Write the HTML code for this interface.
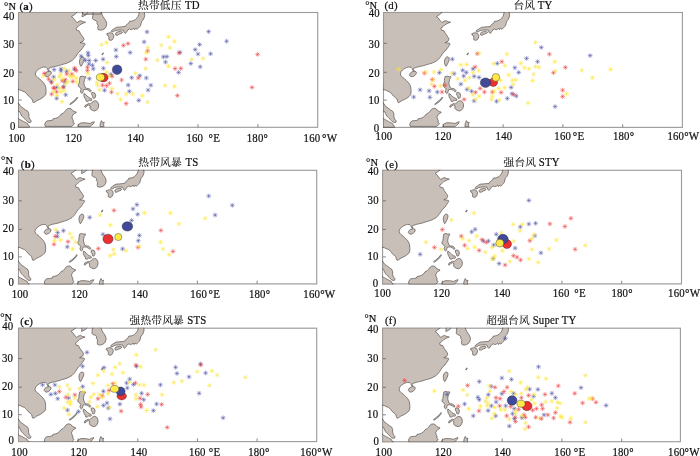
<!DOCTYPE html>
<html lang="zh"><head><meta charset="utf-8"><title>TC genesis locations</title>
<style>
html,body{margin:0;padding:0;background:#fff;}
body{width:700px;height:456px;overflow:hidden;}
svg{display:block;}
text{font-family:"Liberation Serif","Noto Serif CJK SC",serif;fill:#111;stroke:#111;stroke-width:0.22px;}
.t{font-size:12px;letter-spacing:0.2px;}
.cj{font-size:10.7px;letter-spacing:0.2px;stroke-width:0.1px;}
.u{font-size:11.4px;letter-spacing:0.2px;}
.e{font-size:12.2px;letter-spacing:0.3px;}
.g{font-size:10.8px;letter-spacing:0.3px;}
.land{fill:#c9bfb9;stroke:#5e5652;stroke-width:0.72;stroke-linejoin:round;}
.fr{fill:none;stroke:#c2c2c2;stroke-width:1.1;}
.fr2{fill:none;stroke:#000;stroke-opacity:0.2;stroke-width:1.1;}
.tk{stroke:#5a504c;stroke-width:0.7;}
.m{stroke-width:0.5;stroke-linecap:butt;fill:none;}
.c{stroke:#1c1c1c;stroke-opacity:0.75;stroke-width:0.5;}
</style></head><body>
<svg width="700" height="456" viewBox="0 0 700 456">
<rect width="700" height="456" fill="#fff"/>
<g id="panel-a">
<rect class="fr" x="18.5" y="12.5" width="299.2" height="114.8"/>
<clipPath id="cpa"><rect x="18.0" y="12.0" width="300.2" height="115.8"/></clipPath>
<g clip-path="url(#cpa)">
<path class="land" d="M15.8 8.6L76.7 8.6L76.5 13.0L74.5 14.7L71.4 16.7L72.9 17.7L75.0 20.2L77.0 22.7L79.0 21.2L81.0 20.7L83.1 21.7L85.6 22.2L83.1 23.2L80.0 24.7L78.0 26.7L76.0 28.2L76.5 30.2L79.0 30.7L80.5 33.7L83.1 37.2L84.1 39.2L83.1 41.2L80.0 42.7L84.6 43.2L85.1 44.2L83.1 47.2L81.0 50.2L79.0 51.8L77.5 53.8L76.0 56.3L74.5 58.3L72.4 60.3L69.9 61.8L67.4 63.0L64.9 63.8L61.8 64.6L58.8 65.6L55.7 66.3L53.2 66.8L50.7 67.6L48.9 68.3L48.5 69.3L49.3 70.6L48.5 71.0L47.6 69.8L47.1 68.3L46.1 67.3L43.6 67.0L41.6 67.6L39.6 68.6L37.5 70.0L36.0 71.8L35.3 74.0L36.0 75.8L37.5 77.3L39.6 78.8L41.6 80.8L43.6 82.8L45.1 85.3L45.8 87.5L46.1 91.0L45.8 94.5L44.1 96.5L42.1 98.0L39.6 99.5L37.0 100.5L35.0 102.0L33.3 102.7L32.5 101.0L32.0 99.0L30.2 97.5L28.4 96.0L26.9 94.0L24.9 92.0L22.3 91.0L20.3 90.0L17.8 89.5ZM17.8 103.0L18.8 103.5L19.8 105.0L20.8 106.5L22.8 107.8L25.6 109.9L28.0 111.5L28.8 113.6L28.9 116.9L29.7 119.1L31.1 120.6L30.9 122.3L29.2 122.5L27.7 121.9L26.6 120.8L25.2 119.3L23.4 117.6L21.7 116.0L20.6 113.7L20.0 112.0L18.9 111.3L17.8 111.0ZM17.8 118.4L18.6 118.7L20.0 119.7L21.7 120.4L23.4 121.4L25.7 122.6L27.4 123.4L28.0 125.0L29.2 125.8L29.4 127.3L17.8 127.3ZM44.8 74.0L45.6 72.8L47.1 71.8L49.2 71.3L50.9 71.6L51.5 72.8L50.7 74.6L49.2 76.0L47.1 76.8L45.4 76.3L44.6 75.3ZM81.6 57.0L83.1 56.8L84.1 57.8L84.3 59.6L83.6 61.8L82.6 63.8L81.6 65.8L80.8 66.3L80.0 64.8L79.5 62.8L79.5 60.8L80.0 58.8ZM45.1 126.4L44.8 123.9L45.8 121.9L47.1 120.9L49.7 120.6L52.7 120.2L53.2 118.7L55.7 118.3L57.8 117.5L59.8 116.0L61.3 114.0L63.3 113.0L64.9 111.5L66.4 109.5L67.9 108.5L69.9 108.3L71.4 109.0L72.4 110.5L74.5 111.5L76.2 112.0L75.8 113.0L74.0 113.7L72.9 115.0L71.9 117.0L72.4 119.0L73.5 120.9L72.9 122.4L74.5 123.4L73.8 124.4L71.9 126.4ZM69.7 104.0L71.9 102.3L74.5 100.3L76.5 98.0L77.3 97.0L77.7 97.5L76.9 99.0L75.1 101.1L72.5 103.1L70.1 104.6ZM77.8 126.6L78.5 124.2L81.4 122.8L85.7 122.8L90.0 123.5L92.8 122.1L94.3 121.8L93.5 123.5L91.4 125.6L90.0 126.6ZM100.0 126.6L100.3 123.5L101.4 120.6L102.9 122.8L104.3 122.3L103.6 124.2L104.0 126.6ZM80.2 76.6L82.2 76.1L84.2 76.8L85.7 76.4L85.9 77.6L84.7 79.1L84.2 81.1L83.9 83.6L84.5 85.6L85.2 87.6L86.8 88.4L88.8 88.6L90.3 89.6L91.3 91.1L90.3 91.8L88.8 90.6L87.0 89.6L85.2 89.4L83.7 89.6L83.2 91.1L82.9 92.6L81.9 93.4L80.7 92.4L80.5 90.6L81.2 89.1L80.2 87.6L78.7 86.6L78.2 84.6L79.2 83.1L79.5 80.6L79.7 78.6ZM91.8 92.6L93.3 92.4L94.8 93.1L95.7 95.1L95.4 97.1L94.3 98.5L93.0 98.0L92.6 96.1L91.6 94.6ZM83.9 93.6L85.2 94.1L86.8 95.6L88.3 97.1L89.8 98.0L91.3 98.5L92.0 100.0L90.8 100.7L89.3 100.3L87.8 101.5L86.2 101.3L85.7 99.5L84.7 98.0L83.9 96.1ZM84.7 107.0L85.2 105.3L87.0 104.5L88.8 103.5L90.3 104.0L91.8 102.5L93.3 101.3L95.4 100.7L97.1 101.5L98.4 103.5L98.7 106.0L97.9 108.5L96.4 110.3L94.3 111.0L92.3 110.3L90.8 109.5L89.8 108.0L90.3 106.0L88.8 105.0L87.0 105.7L85.7 107.3ZM92.3 8.6L93.2 12.7L92.7 16.2L92.5 18.7L93.7 19.7L96.2 20.7L97.2 22.2L96.9 23.7L98.2 25.2L97.7 27.7L98.2 29.7L100.3 30.2L102.8 29.7L105.0 28.4L106.3 26.2L106.8 23.7L106.0 21.2L104.8 19.2L103.3 17.2L102.3 15.2L101.3 12.7L101.3 8.6ZM82.5 8.6L82.5 12.7L82.0 16.7L83.6 16.2L86.1 14.7L87.6 12.7L87.6 8.6ZM82.5 8.6L82.5 13.8L85.0 14.4L91.0 14.2L101.3 14.0L101.3 8.6ZM139.0 8.6L139.2 12.7L138.2 16.2L136.7 18.2L135.2 19.7L133.2 20.7L131.1 21.2L129.6 21.2L129.1 22.7L127.6 23.7L126.1 25.2L125.6 26.4L123.0 26.7L120.0 27.0L117.0 27.2L114.9 28.2L113.4 29.2L111.9 30.2L111.1 31.2L111.9 32.0L113.4 31.7L114.9 30.7L117.0 30.2L119.0 30.0L121.5 30.0L123.5 30.4L124.0 32.2L125.1 33.4L126.1 32.7L127.1 31.2L128.1 29.7L129.6 29.0L131.1 29.7L132.6 29.2L134.0 28.2L134.7 29.7L135.7 28.4L137.2 29.2L138.7 27.7L139.7 26.7L140.7 25.2L141.2 23.2L141.8 21.2L143.3 19.7L144.3 17.2L144.8 15.2L144.3 12.7L144.4 8.6ZM115.4 33.7L116.5 32.2L118.5 31.7L120.5 31.2L122.5 32.2L121.5 33.4L119.5 34.0L117.5 35.2L115.9 35.2ZM106.8 33.7L108.9 33.0L110.9 32.7L112.9 33.7L113.9 35.7L113.4 38.0L112.4 39.7L110.7 40.4L108.9 39.7L108.9 37.7L108.4 35.7L107.0 35.0ZM101.9 54.6L103.0 52.8L103.6 53.2L102.4 54.9Z"/>
</g>
<path class="m" stroke="#4d52a6" d="M51.7 69.6H56.5M54.1 67.2V72.0M52.4 67.9L55.9 71.3M52.4 71.3L55.9 67.9"/>
<path class="m" stroke="#4d52a6" d="M58.6 68.9H63.4M61.0 66.5V71.3M59.3 67.2L62.7 70.6M59.3 70.6L62.7 67.2"/>
<path class="m" stroke="#4d52a6" d="M58.6 70.9H63.4M61.0 68.5V73.3M59.3 69.2L62.7 72.6M59.3 72.6L62.7 69.2"/>
<path class="m" stroke="#4d52a6" d="M64.3 71.3H69.1M66.7 68.9V73.7M65.0 69.6L68.5 73.0M65.0 73.0L68.5 69.6"/>
<path class="m" stroke="#4d52a6" d="M83.0 60.2H87.8M85.4 57.8V62.6M83.7 58.5L87.1 61.9M83.7 61.9L87.1 58.5"/>
<path class="m" stroke="#4d52a6" d="M86.8 60.5H91.6M89.2 58.1V62.9M87.5 58.8L91.0 62.2M87.5 62.2L91.0 58.8"/>
<path class="m" stroke="#4d52a6" d="M93.3 60.5H98.1M95.7 58.1V62.9M94.0 58.8L97.4 62.2M94.0 62.2L97.4 58.8"/>
<path class="m" stroke="#4d52a6" d="M100.7 59.2H105.5M103.1 56.8V61.6M101.3 57.5L104.8 60.9M101.3 60.9L104.8 57.5"/>
<path class="m" stroke="#4d52a6" d="M101.0 68.3H105.8M103.4 65.9V70.7M101.6 66.6L105.1 70.0M101.6 70.0L105.1 66.6"/>
<path class="m" stroke="#4d52a6" d="M90.1 65.3H94.9M92.5 62.9V67.7M90.7 63.5L94.2 67.0M90.7 67.0L94.2 63.5"/>
<path class="m" stroke="#4d52a6" d="M90.9 68.9H95.7M93.3 66.5V71.3M91.5 67.2L95.0 70.6M91.5 70.6L95.0 67.2"/>
<path class="m" stroke="#4d52a6" d="M86.5 64.1H91.3M88.9 61.7V66.5M87.2 62.3L90.7 65.8M87.2 65.8L90.7 62.3"/>
<path class="m" stroke="#4d52a6" d="M87.0 78.7H91.8M89.4 76.3V81.1M87.7 76.9L91.2 80.4M87.7 80.4L91.2 76.9"/>
<path class="m" stroke="#4d52a6" d="M51.2 77.0H56.0M53.6 74.6V79.4M51.9 75.2L55.4 78.7M51.9 78.7L55.4 75.2"/>
<path class="m" stroke="#4d52a6" d="M62.3 82.0H67.1M64.7 79.6V84.4M63.0 80.3L66.5 83.7M63.0 83.7L66.5 80.3"/>
<path class="m" stroke="#4d52a6" d="M54.3 87.3H59.1M56.7 84.9V89.7M54.9 85.5L58.4 89.0M54.9 89.0L58.4 85.5"/>
<path class="m" stroke="#4d52a6" d="M61.3 86.7H66.1M63.7 84.3V89.1M62.0 85.0L65.4 88.5M62.0 88.5L65.4 85.0"/>
<path class="m" stroke="#4d52a6" d="M63.3 94.8H68.1M65.7 92.4V97.2M64.0 93.1L67.5 96.5M64.0 96.5L67.5 93.1"/>
<path class="m" stroke="#4d52a6" d="M54.3 98.3H59.1M56.7 95.9V100.7M54.9 96.6L58.4 100.1M54.9 100.1L58.4 96.6"/>
<path class="m" stroke="#4d52a6" d="M102.2 90.3H107.0M104.6 87.9V92.7M102.8 88.5L106.3 92.0M102.8 92.0L106.3 88.5"/>
<path class="m" stroke="#4d52a6" d="M72.1 69.3H76.9M74.5 66.9V71.7M72.8 67.6L76.2 71.0M72.8 71.0L76.2 67.6"/>
<path class="m" stroke="#4d52a6" d="M48.7 81.4H53.5M51.1 79.0V83.8M49.4 79.7L52.8 83.1M49.4 83.1L52.8 79.7"/>
<path class="m" stroke="#ec3c3c" d="M41.9 73.3H46.7M44.3 70.9V75.7M42.5 71.6L46.0 75.1M42.5 75.1L46.0 71.6"/>
<path class="m" stroke="#ec3c3c" d="M72.4 68.1H77.2M74.8 65.7V70.5M73.1 66.4L76.5 69.8M73.1 69.8L76.5 66.4"/>
<path class="m" stroke="#ec3c3c" d="M73.9 70.6H78.7M76.3 68.2V73.0M74.6 68.9L78.1 72.3M74.6 72.3L78.1 68.9"/>
<path class="m" stroke="#ec3c3c" d="M85.0 67.3H89.8M87.4 64.9V69.7M85.7 65.6L89.2 69.0M85.7 69.0L89.2 65.6"/>
<path class="m" stroke="#ec3c3c" d="M85.0 70.6H89.8M87.4 68.2V73.0M85.7 68.9L89.2 72.3M85.7 72.3L89.2 68.9"/>
<path class="m" stroke="#ec3c3c" d="M46.2 79.0H51.0M48.6 76.6V81.4M46.9 77.3L50.3 80.7M46.9 80.7L50.3 77.3"/>
<path class="m" stroke="#ec3c3c" d="M49.2 82.7H54.0M51.6 80.3V85.1M49.9 81.0L53.3 84.4M49.9 84.4L53.3 81.0"/>
<path class="m" stroke="#ec3c3c" d="M59.8 80.7H64.6M62.2 78.3V83.1M60.5 79.0L63.9 82.4M60.5 82.4L63.9 79.0"/>
<path class="m" stroke="#ec3c3c" d="M62.8 79.7H67.6M65.2 77.3V82.1M63.5 78.0L67.0 81.4M63.5 81.4L67.0 78.0"/>
<path class="m" stroke="#ec3c3c" d="M70.4 81.4H75.2M72.8 79.0V83.8M71.1 79.7L74.5 83.1M71.1 83.1L74.5 79.7"/>
<path class="m" stroke="#ec3c3c" d="M51.2 87.8H56.0M53.6 85.4V90.2M51.9 86.0L55.4 89.5M51.9 89.5L55.4 86.0"/>
<path class="m" stroke="#ec3c3c" d="M60.8 87.3H65.6M63.2 84.9V89.7M61.5 85.5L64.9 89.0M61.5 89.0L64.9 85.5"/>
<path class="m" stroke="#ec3c3c" d="M49.2 94.1H54.0M51.6 91.7V96.5M49.9 92.4L53.3 95.8M49.9 95.8L53.3 92.4"/>
<path class="m" stroke="#ec3c3c" d="M54.3 91.8H59.1M56.7 89.4V94.2M54.9 90.1L58.4 93.5M54.9 93.5L58.4 90.1"/>
<path class="m" stroke="#ec3c3c" d="M51.7 88.3H56.5M54.1 85.9V90.7M52.4 86.5L55.9 90.0M52.4 90.0L55.9 86.5"/>
<path class="m" stroke="#ec3c3c" d="M69.4 74.1H74.2M71.8 71.7V76.5M70.1 72.4L73.5 75.9M70.1 75.9L73.5 72.4"/>
<path class="m" stroke="#ec3c3c" d="M64.3 73.9H69.1M66.7 71.5V76.3M65.0 72.2L68.5 75.7M65.0 75.7L68.5 72.2"/>
<path class="m" stroke="#ec3c3c" d="M100.2 85.2H105.0M102.6 82.8V87.6M100.8 83.5L104.3 87.0M100.8 87.0L104.3 83.5"/>
<path class="m" stroke="#ec3c3c" d="M104.2 85.7H109.0M106.6 83.3V88.1M104.9 84.0L108.3 87.5M104.9 87.5L108.3 84.0"/>
<path class="m" stroke="#ffe430" d="M61.8 68.6H66.6M64.2 66.2V71.0M62.5 66.9L66.0 70.3M62.5 70.3L66.0 66.9"/>
<path class="m" stroke="#ffe430" d="M66.9 70.9H71.7M69.3 68.5V73.3M67.5 69.2L71.0 72.6M67.5 72.6L71.0 69.2"/>
<path class="m" stroke="#ffe430" d="M40.8 76.0H45.6M43.2 73.6V78.4M41.5 74.2L45.0 77.7M41.5 77.7L45.0 74.2"/>
<path class="m" stroke="#ffe430" d="M51.7 79.7H56.5M54.1 77.3V82.1M52.4 78.0L55.9 81.4M52.4 81.4L55.9 78.0"/>
<path class="m" stroke="#ffe430" d="M58.3 74.6H63.1M60.7 72.2V77.0M59.0 72.9L62.4 76.4M59.0 76.4L62.4 72.9"/>
<path class="m" stroke="#ffe430" d="M56.8 76.7H61.6M59.2 74.3V79.1M57.5 74.9L60.9 78.4M57.5 78.4L60.9 74.9"/>
<path class="m" stroke="#ffe430" d="M66.9 75.7H71.7M69.3 73.3V78.1M67.5 73.9L71.0 77.4M67.5 77.4L71.0 73.9"/>
<path class="m" stroke="#ffe430" d="M68.9 77.2H73.7M71.3 74.8V79.6M69.6 75.4L73.0 78.9M69.6 78.9L73.0 75.4"/>
<path class="m" stroke="#ffe430" d="M65.4 81.7H70.2M67.8 79.3V84.1M66.0 80.0L69.5 83.4M66.0 83.4L69.5 80.0"/>
<path class="m" stroke="#ffe430" d="M63.3 83.7H68.1M65.7 81.3V86.1M64.0 82.0L67.5 85.4M64.0 85.4L67.5 82.0"/>
<path class="m" stroke="#ffe430" d="M71.4 76.2H76.2M73.8 73.8V78.6M72.1 74.4L75.5 77.9M72.1 77.9L75.5 74.4"/>
<path class="m" stroke="#ffe430" d="M73.9 78.2H78.7M76.3 75.8V80.6M74.6 76.4L78.1 79.9M74.6 79.9L78.1 76.4"/>
<path class="m" stroke="#ffe430" d="M74.4 82.2H79.2M76.8 79.8V84.6M75.1 80.5L78.6 83.9M75.1 83.9L78.6 80.5"/>
<path class="m" stroke="#ffe430" d="M54.8 84.7H59.6M57.2 82.3V87.1M55.4 83.0L58.9 86.5M55.4 86.5L58.9 83.0"/>
<path class="m" stroke="#ffe430" d="M57.3 88.3H62.1M59.7 85.9V90.7M58.0 86.5L61.4 90.0M58.0 90.0L61.4 86.5"/>
<path class="m" stroke="#ffe430" d="M58.3 91.8H63.1M60.7 89.4V94.2M59.0 90.1L62.4 93.5M59.0 93.5L62.4 90.1"/>
<path class="m" stroke="#ffe430" d="M61.6 90.8H66.4M64.0 88.4V93.2M62.3 89.1L65.8 92.5M62.3 92.5L65.8 89.1"/>
<path class="m" stroke="#ffe430" d="M51.2 91.5H56.0M53.6 89.1V93.9M51.9 89.8L55.4 93.2M51.9 93.2L55.4 89.8"/>
<path class="m" stroke="#ffe430" d="M54.3 95.5H59.1M56.7 93.1V97.9M54.9 93.8L58.4 97.3M54.9 97.3L58.4 93.8"/>
<path class="m" stroke="#ffe430" d="M59.6 101.6H64.4M62.0 99.2V104.0M60.3 99.8L63.7 103.3M60.3 103.3L63.7 99.8"/>
<path class="m" stroke="#ffe430" d="M85.5 73.6H90.3M87.9 71.2V76.0M86.2 71.9L89.7 75.4M86.2 75.4L89.7 71.9"/>
<path class="m" stroke="#ffe430" d="M94.6 82.7H99.4M97.0 80.3V85.1M95.3 81.0L98.7 84.4M95.3 84.4L98.7 81.0"/>
<path class="m" stroke="#ffe430" d="M95.1 85.2H99.9M97.5 82.8V87.6M95.8 83.5L99.2 87.0M95.8 87.0L99.2 83.5"/>
<path class="m" stroke="#ffe430" d="M97.1 89.8H101.9M99.5 87.4V92.2M97.8 88.0L101.3 91.5M97.8 91.5L101.3 88.0"/>
<path class="m" stroke="#ffe430" d="M104.7 62.5H109.5M107.1 60.1V64.9M105.4 60.8L108.8 64.3M105.4 64.3L108.8 60.8"/>
<path class="m" stroke="#ffe430" d="M104.2 72.1H109.0M106.6 69.7V74.5M104.9 70.4L108.3 73.8M104.9 73.8L108.3 70.4"/>
<path class="m" stroke="#ffe430" d="M59.8 79.2H64.6M62.2 76.8V81.6M60.5 77.5L63.9 80.9M60.5 80.9L63.9 77.5"/>
<path class="m" stroke="#4d52a6" d="M163.1 62.0H167.9M165.5 59.6V64.4M163.8 60.3L167.2 63.8M163.8 63.8L167.2 60.3"/>
<path class="m" stroke="#4d52a6" d="M129.3 77.7H134.1M131.7 75.3V80.1M130.0 75.9L133.4 79.4M130.0 79.4L133.4 75.9"/>
<path class="m" stroke="#4d52a6" d="M137.4 75.7H142.2M139.8 73.3V78.1M138.0 73.9L141.5 77.4M138.0 77.4L141.5 73.9"/>
<path class="m" stroke="#4d52a6" d="M143.9 78.0H148.7M146.3 75.6V80.4M144.6 76.2L148.1 79.7M144.6 79.7L148.1 76.2"/>
<path class="m" stroke="#4d52a6" d="M125.8 85.0H130.6M128.2 82.6V87.4M126.4 83.3L129.9 86.8M126.4 86.8L129.9 83.3"/>
<path class="m" stroke="#4d52a6" d="M148.5 85.2H153.3M150.9 82.8V87.6M149.1 83.5L152.6 87.0M149.1 87.0L152.6 83.5"/>
<path class="m" stroke="#4d52a6" d="M145.7 90.1H150.5M148.1 87.7V92.5M146.4 88.3L149.9 91.8M146.4 91.8L149.9 88.3"/>
<path class="m" stroke="#4d52a6" d="M127.0 91.3H131.8M129.4 88.9V93.7M127.7 89.6L131.1 93.0M127.7 93.0L131.1 89.6"/>
<path class="m" stroke="#4d52a6" d="M136.4 100.4H141.2M138.8 98.0V102.8M137.0 98.6L140.5 102.1M137.0 102.1L140.5 98.6"/>
<path class="m" stroke="#4d52a6" d="M108.6 74.3H113.4M111.0 71.9V76.7M109.3 72.6L112.8 76.1M109.3 76.1L112.8 72.6"/>
<path class="m" stroke="#ec3c3c" d="M143.4 59.2H148.2M145.8 56.8V61.6M144.1 57.5L147.6 60.9M144.1 60.9L147.6 57.5"/>
<path class="m" stroke="#ec3c3c" d="M172.7 68.6H177.5M175.1 66.2V71.0M173.3 66.9L176.8 70.3M173.3 70.3L176.8 66.9"/>
<path class="m" stroke="#ec3c3c" d="M135.9 78.0H140.7M138.3 75.6V80.4M136.5 76.2L140.0 79.7M136.5 79.7L140.0 76.2"/>
<path class="m" stroke="#ec3c3c" d="M119.2 80.0H124.0M121.6 77.6V82.4M119.9 78.3L123.3 81.7M119.9 81.7L123.3 78.3"/>
<path class="m" stroke="#ec3c3c" d="M107.1 83.2H111.9M109.5 80.8V85.6M107.8 81.5L111.2 84.9M107.8 84.9L111.2 81.5"/>
<path class="m" stroke="#ec3c3c" d="M109.1 92.1H113.9M111.5 89.7V94.5M109.8 90.4L113.3 93.8M109.8 93.8L113.3 90.4"/>
<path class="m" stroke="#ec3c3c" d="M109.6 76.4H114.4M112.0 74.0V78.8M110.3 74.6L113.8 78.1M110.3 78.1L113.8 74.6"/>
<path class="m" stroke="#ec3c3c" d="M123.8 103.6H128.6M126.2 101.2V106.0M124.4 101.9L127.9 105.3M124.4 105.3L127.9 101.9"/>
<path class="m" stroke="#ffe430" d="M155.0 60.2H159.8M157.4 57.8V62.6M155.7 58.5L159.2 61.9M155.7 61.9L159.2 58.5"/>
<path class="m" stroke="#ffe430" d="M166.1 66.3H170.9M168.5 63.9V68.7M166.8 64.5L170.2 68.0M166.8 68.0L170.2 64.5"/>
<path class="m" stroke="#ffe430" d="M143.2 68.6H148.0M145.6 66.2V71.0M143.9 66.9L147.4 70.3M143.9 70.3L147.4 66.9"/>
<path class="m" stroke="#ffe430" d="M133.0 73.3H137.8M135.4 70.9V75.7M133.7 71.6L137.2 75.1M133.7 75.1L137.2 71.6"/>
<path class="m" stroke="#ffe430" d="M162.8 85.4H167.6M165.2 83.0V87.8M163.5 83.7L166.9 87.2M163.5 87.2L166.9 83.7"/>
<path class="m" stroke="#ffe430" d="M172.2 86.4H177.0M174.6 84.0V88.8M172.8 84.7L176.3 88.2M172.8 88.2L176.3 84.7"/>
<path class="m" stroke="#ffe430" d="M109.6 88.5H114.4M112.0 86.1V90.9M110.3 86.7L113.8 90.2M110.3 90.2L113.8 86.7"/>
<path class="m" stroke="#ffe430" d="M115.2 93.8H120.0M117.6 91.4V96.2M115.9 92.1L119.3 95.5M115.9 95.5L119.3 92.1"/>
<path class="m" stroke="#ffe430" d="M123.8 94.1H128.6M126.2 91.7V96.5M124.4 92.4L127.9 95.8M124.4 95.8L127.9 92.4"/>
<path class="m" stroke="#ffe430" d="M130.3 93.8H135.1M132.7 91.4V96.2M131.0 92.1L134.4 95.5M131.0 95.5L134.4 92.1"/>
<path class="m" stroke="#ffe430" d="M139.9 95.8H144.7M142.3 93.4V98.2M140.6 94.1L144.0 97.6M140.6 97.6L144.0 94.1"/>
<path class="m" stroke="#ffe430" d="M118.2 99.4H123.0M120.6 97.0V101.8M118.9 97.6L122.3 101.1M118.9 101.1L122.3 97.6"/>
<path class="m" stroke="#ffe430" d="M145.2 102.2H150.0M147.6 99.8V104.6M145.9 100.5L149.4 103.9M145.9 103.9L149.4 100.5"/>
<path class="m" stroke="#ffe430" d="M106.6 76.0H111.4M109.0 73.6V78.4M107.3 74.2L110.7 77.7M107.3 77.7L110.7 74.2"/>
<path class="m" stroke="#4d52a6" d="M206.2 31.6H211.0M208.6 29.2V34.0M206.9 29.9L210.3 33.3M206.9 33.3L210.3 29.9"/>
<path class="m" stroke="#4d52a6" d="M224.2 41.2H229.0M226.6 38.8V43.6M224.9 39.5L228.3 42.9M224.9 42.9L228.3 39.5"/>
<path class="m" stroke="#4d52a6" d="M197.2 44.6H202.0M199.6 42.2V47.0M197.9 42.9L201.3 46.3M197.9 46.3L201.3 42.9"/>
<path class="m" stroke="#4d52a6" d="M192.8 49.6H197.6M195.2 47.2V52.0M193.5 47.9L196.9 51.3M193.5 51.3L196.9 47.9"/>
<path class="m" stroke="#4d52a6" d="M195.6 54.0H200.4M198.0 51.6V56.4M196.3 52.3L199.7 55.7M196.3 55.7L199.7 52.3"/>
<path class="m" stroke="#4d52a6" d="M208.2 53.8H213.0M210.6 51.4V56.2M208.9 52.1L212.3 55.5M208.9 55.5L212.3 52.1"/>
<path class="m" stroke="#4d52a6" d="M188.4 63.6H193.2M190.8 61.2V66.0M189.1 61.9L192.5 65.3M189.1 65.3L192.5 61.9"/>
<path class="m" stroke="#4d52a6" d="M197.8 66.8H202.6M200.2 64.4V69.2M198.5 65.1L201.9 68.5M198.5 68.5L201.9 65.1"/>
<path class="m" stroke="#4d52a6" d="M176.2 72.4H181.0M178.6 70.0V74.8M176.9 70.7L180.3 74.1M176.9 74.1L180.3 70.7"/>
<path class="m" stroke="#4d52a6" d="M177.6 52.4H182.4M180.0 50.0V54.8M178.3 50.7L181.7 54.1M178.3 54.1L181.7 50.7"/>
<path class="m" stroke="#ec3c3c" d="M255.2 54.4H260.0M257.6 52.0V56.8M255.9 52.7L259.3 56.1M255.9 56.1L259.3 52.7"/>
<path class="m" stroke="#ec3c3c" d="M249.6 87.4H254.4M252.0 85.0V89.8M250.3 85.7L253.7 89.1M250.3 89.1L253.7 85.7"/>
<path class="m" stroke="#ec3c3c" d="M178.4 68.4H183.2M180.8 66.0V70.8M179.1 66.7L182.5 70.1M179.1 70.1L182.5 66.7"/>
<path class="m" stroke="#ec3c3c" d="M176.6 53.0H181.4M179.0 50.6V55.4M177.3 51.3L180.7 54.7M177.3 54.7L180.7 51.3"/>
<path class="m" stroke="#ec3c3c" d="M175.0 95.6H179.8M177.4 93.2V98.0M175.7 93.9L179.1 97.3M175.7 97.3L179.1 93.9"/>
<path class="m" stroke="#ffe430" d="M189.2 59.4H194.0M191.6 57.0V61.8M189.9 57.7L193.3 61.1M189.9 61.1L193.3 57.7"/>
<path class="m" stroke="#ffe430" d="M200.8 58.4H205.6M203.2 56.0V60.8M201.5 56.7L204.9 60.1M201.5 60.1L204.9 56.7"/>
<path class="m" stroke="#4d52a6" d="M144.6 31.9H149.4M147.0 29.5V34.3M145.3 30.1L148.7 33.6M145.3 33.6L148.7 30.1"/>
<path class="m" stroke="#4d52a6" d="M141.7 41.9H146.5M144.1 39.5V44.3M142.4 40.1L145.9 43.6M142.4 43.6L145.9 40.1"/>
<path class="m" stroke="#4d52a6" d="M127.7 52.6H132.5M130.1 50.2V55.0M128.4 50.8L131.9 54.3M128.4 54.3L131.9 50.8"/>
<path class="m" stroke="#4d52a6" d="M113.5 50.0H118.3M115.9 47.6V52.4M114.1 48.3L117.6 51.7M114.1 51.7L117.6 48.3"/>
<path class="m" stroke="#4d52a6" d="M113.9 56.6H118.7M116.3 54.2V59.0M114.6 54.8L118.0 58.3M114.6 58.3L118.0 54.8"/>
<path class="m" stroke="#4d52a6" d="M85.6 52.9H90.4M88.0 50.5V55.3M86.3 51.1L89.7 54.6M86.3 54.6L89.7 51.1"/>
<path class="m" stroke="#4d52a6" d="M85.9 55.4H90.7M88.3 53.0V57.8M86.6 53.7L90.0 57.2M86.6 57.2L90.0 53.7"/>
<path class="m" stroke="#4d52a6" d="M78.7 56.1H83.5M81.1 53.7V58.5M79.4 54.4L82.9 57.9M79.4 57.9L82.9 54.4"/>
<path class="m" stroke="#4d52a6" d="M161.0 56.9H165.8M163.4 54.5V59.3M161.7 55.1L165.2 58.6M161.7 58.6L165.2 55.1"/>
<path class="m" stroke="#4d52a6" d="M164.5 56.6H169.3M166.9 54.2V59.0M165.1 54.8L168.6 58.3M165.1 58.3L168.6 54.8"/>
<path class="m" stroke="#ec3c3c" d="M121.0 45.4H125.8M123.4 43.0V47.8M121.7 43.7L125.2 47.2M121.7 47.2L125.2 43.7"/>
<path class="m" stroke="#ec3c3c" d="M125.6 43.6H130.4M128.0 41.2V46.0M126.3 41.8L129.7 45.3M126.3 45.3L129.7 41.8"/>
<path class="m" stroke="#ec3c3c" d="M145.2 50.9H150.0M147.6 48.5V53.3M145.8 49.1L149.3 52.6M145.8 52.6L149.3 49.1"/>
<path class="m" stroke="#ffe430" d="M99.2 44.7H104.0M101.6 42.3V47.1M99.8 43.0L103.3 46.4M99.8 46.4L103.3 43.0"/>
<path class="m" stroke="#ffe430" d="M104.2 42.6H109.0M106.6 40.2V45.0M104.8 40.8L108.3 44.3M104.8 44.3L108.3 40.8"/>
<path class="m" stroke="#ffe430" d="M166.0 36.9H170.8M168.4 34.5V39.3M166.7 35.1L170.2 38.6M166.7 38.6L170.2 35.1"/>
<path class="m" stroke="#ffe430" d="M172.0 41.4H176.8M174.4 39.0V43.8M172.7 39.7L176.2 43.2M172.7 43.2L176.2 39.7"/>
<path class="m" stroke="#ffe430" d="M158.9 45.1H163.7M161.3 42.7V47.5M159.6 43.4L163.0 46.9M159.6 46.9L163.0 43.4"/>
<path class="m" stroke="#ffe430" d="M167.5 47.9H172.3M169.9 45.5V50.3M168.1 46.1L171.6 49.6M168.1 49.6L171.6 46.1"/>
<path class="m" stroke="#ffe430" d="M145.3 47.6H150.1M147.7 45.2V50.0M146.0 45.8L149.4 49.3M146.0 49.3L149.4 45.8"/>
<path class="m" stroke="#ffe430" d="M143.9 52.6H148.7M146.3 50.2V55.0M144.6 50.8L148.0 54.3M144.6 54.3L148.0 50.8"/>
<ellipse class="c" cx="117.1" cy="69.7" rx="4.8" ry="4.8" fill="#414a9a"/>
<ellipse class="c" cx="103.4" cy="77.6" rx="4.7" ry="4.3" fill="#ea3030"/>
<ellipse class="c" cx="100.5" cy="77.3" rx="4.2" ry="3.6" fill="#ffea48"/>
<rect class="fr2" x="18.5" y="12.5" width="299.2" height="114.8"/>
<line class="tk" x1="78.3" y1="127.0" x2="78.3" y2="124.1"/>
<line class="tk" x1="138.2" y1="127.0" x2="138.2" y2="124.1"/>
<line class="tk" x1="198.0" y1="127.0" x2="198.0" y2="124.1"/>
<line class="tk" x1="257.9" y1="127.0" x2="257.9" y2="124.1"/>
<line class="tk" x1="18.8" y1="43.3" x2="21.8" y2="43.3"/>
<line class="tk" x1="18.8" y1="72.2" x2="21.8" y2="72.2"/>
<line class="tk" x1="18.8" y1="100.0" x2="21.8" y2="100.0"/>
<text class="t" transform="translate(8.45 141.90) scale(0.9 1)">100</text>
<text class="t" transform="translate(65.45 141.90) scale(0.9 1)">120</text>
<text class="t" transform="translate(127.45 141.90) scale(0.9 1)">140</text>
<text class="t" transform="translate(186.45 141.90) scale(0.9 1)">160</text>
<text class="e" transform="translate(208.47 141.90) scale(0.9 1)">°E</text>
<text class="t" transform="translate(246.75 141.90) scale(0.9 1)">180°</text>
<text class="t" transform="translate(303.60 141.90) scale(0.9 1)">160</text>
<text class="e" transform="translate(321.98 141.90) scale(0.9 1)">°W</text>
<text class="t" transform="translate(3.37 19.60) scale(0.9 1)">40</text>
<text class="t" transform="translate(3.21 47.90) scale(0.9 1)">30</text>
<text class="t" transform="translate(3.21 77.00) scale(0.9 1)">20</text>
<text class="t" transform="translate(2.99 103.60) scale(0.9 1)">10</text>
<text class="t" transform="translate(10.05 129.90) scale(0.9 1)">0</text>
<text class="u" transform="translate(4.03 9.90) scale(0.92 1)">°N</text>
<text class="g" x="19.42" y="9.80">(<tspan font-weight="bold">a</tspan>)</text>
<text class="cj" x="138.10" y="9.20">热带低压</text>
<text class="t" transform="translate(184.98 9.20) scale(0.9 1)">TD</text>
</g>
<g id="panel-d">
<rect class="fr" x="383.5" y="12.5" width="298.9" height="114.9"/>
<clipPath id="cpd"><rect x="383.0" y="12.0" width="299.9" height="115.9"/></clipPath>
<g clip-path="url(#cpd)">
<path class="land" d="M380.8 8.6L441.7 8.6L441.5 13.0L439.4 14.7L436.4 16.7L437.9 17.7L439.9 20.2L442.0 22.7L444.0 21.2L446.0 20.7L448.0 21.7L450.6 22.2L448.0 23.2L445.0 24.7L443.0 26.7L440.9 28.2L441.5 30.2L444.0 30.7L445.5 33.7L448.0 37.2L449.0 39.2L448.0 41.2L445.0 42.7L449.5 43.2L450.0 44.2L448.0 47.2L446.0 50.2L444.0 51.8L442.5 53.8L440.9 56.3L439.4 58.3L437.4 60.3L434.9 61.8L432.4 63.0L429.8 63.8L426.8 64.6L423.8 65.6L420.7 66.3L418.2 66.8L415.7 67.6L413.8 68.3L413.4 69.3L414.2 70.6L413.4 71.0L412.6 69.8L412.1 68.3L411.1 67.3L408.6 67.0L406.6 67.6L404.5 68.6L402.5 70.0L401.0 71.8L400.3 74.0L401.0 75.8L402.5 77.3L404.5 78.8L406.6 80.8L408.6 82.8L410.1 85.3L410.8 87.5L411.1 91.0L410.8 94.5L409.1 96.5L407.1 98.0L404.5 99.5L402.0 100.5L400.0 102.0L398.3 102.7L397.5 101.0L397.0 99.0L395.2 97.5L393.4 96.0L391.9 94.0L389.9 92.0L387.3 91.0L385.3 90.0L382.8 89.5ZM382.8 103.0L383.8 103.5L384.8 105.0L385.8 106.5L387.8 107.8L390.6 109.9L393.0 111.5L393.8 113.6L393.9 116.9L394.7 119.1L396.1 120.6L395.9 122.3L394.2 122.5L392.7 121.9L391.6 120.8L390.2 119.3L388.4 117.6L386.7 116.0L385.6 113.7L385.0 112.0L383.9 111.3L382.8 111.0ZM382.8 118.4L383.6 118.7L385.0 119.7L386.7 120.4L388.4 121.4L390.7 122.6L392.4 123.4L393.0 125.0L394.2 125.8L394.4 127.3L382.8 127.3ZM409.8 74.0L410.6 72.8L412.1 71.8L414.1 71.3L415.9 71.6L416.5 72.8L415.7 74.6L414.1 76.0L412.1 76.8L410.4 76.3L409.6 75.3ZM446.5 57.0L448.0 56.8L449.0 57.8L449.2 59.6L448.5 61.8L447.5 63.8L446.5 65.8L445.8 66.3L445.0 64.8L444.5 62.8L444.5 60.8L445.0 58.8ZM410.1 126.4L409.8 123.9L410.8 121.9L412.1 120.9L414.7 120.6L417.7 120.2L418.2 118.7L420.7 118.3L422.7 117.5L424.8 116.0L426.3 114.0L428.3 113.0L429.8 111.5L431.3 109.5L432.9 108.5L434.9 108.3L436.4 109.0L437.4 110.5L439.4 111.5L441.1 112.0L440.7 113.0L438.9 113.7L437.9 115.0L436.9 117.0L437.4 119.0L438.4 120.9L437.9 122.4L439.4 123.4L438.7 124.4L436.9 126.4ZM434.7 104.0L436.9 102.3L439.4 100.3L441.5 98.0L442.3 97.0L442.7 97.5L441.9 99.0L440.0 101.1L437.5 103.1L435.1 104.6ZM442.7 126.6L443.5 124.2L446.3 122.8L450.6 122.8L454.9 123.5L457.8 122.1L459.2 121.8L458.5 123.5L456.4 125.6L454.9 126.6ZM464.9 126.6L465.2 123.5L466.4 120.6L467.8 122.8L469.2 122.3L468.5 124.2L469.0 126.6ZM445.1 76.6L447.2 76.1L449.2 76.8L450.7 76.4L450.9 77.6L449.7 79.1L449.2 81.1L448.9 83.6L449.5 85.6L450.2 87.6L451.7 88.4L453.7 88.6L455.2 89.6L456.3 91.1L455.2 91.8L453.7 90.6L451.9 89.6L450.2 89.4L448.7 89.6L448.2 91.1L447.9 92.6L446.9 93.4L445.6 92.4L445.4 90.6L446.1 89.1L445.1 87.6L443.6 86.6L443.1 84.6L444.1 83.1L444.4 80.6L444.6 78.6ZM456.8 92.6L458.3 92.4L459.8 93.1L460.6 95.1L460.3 97.1L459.3 98.5L458.0 98.0L457.6 96.1L456.6 94.6ZM448.9 93.6L450.2 94.1L451.7 95.6L453.2 97.1L454.7 98.0L456.3 98.5L457.0 100.0L455.8 100.7L454.2 100.3L452.7 101.5L451.2 101.3L450.7 99.5L449.7 98.0L448.9 96.1ZM449.7 107.0L450.2 105.3L451.9 104.5L453.7 103.5L455.2 104.0L456.8 102.5L458.3 101.3L460.3 100.7L462.0 101.5L463.3 103.5L463.6 106.0L462.8 108.5L461.3 110.3L459.3 111.0L457.3 110.3L455.8 109.5L454.7 108.0L455.2 106.0L453.7 105.0L451.9 105.7L450.7 107.3ZM503.9 8.6L504.1 12.7L503.1 16.2L501.6 18.2L500.1 19.7L498.1 20.7L496.1 21.2L494.5 21.2L494.0 22.7L492.5 23.7L491.0 25.2L490.5 26.4L488.0 26.7L484.9 27.0L481.9 27.2L479.9 28.2L478.4 29.2L476.8 30.2L476.0 31.2L476.8 32.0L478.4 31.7L479.9 30.7L481.9 30.2L483.9 30.0L486.4 30.0L488.5 30.4L489.0 32.2L490.0 33.4L491.0 32.7L492.0 31.2L493.0 29.7L494.5 29.0L496.1 29.7L497.6 29.2L498.9 28.2L499.6 29.7L500.6 28.4L502.1 29.2L503.6 27.7L504.6 26.7L505.7 25.2L506.2 23.2L506.7 21.2L508.2 19.7L509.2 17.2L509.7 15.2L509.2 12.7L509.3 8.6ZM480.4 33.7L481.4 32.2L483.4 31.7L485.4 31.2L487.5 32.2L486.4 33.4L484.4 34.0L482.4 35.2L480.9 35.2ZM471.8 33.7L473.8 33.0L475.8 32.7L477.8 33.7L478.9 35.7L478.4 38.0L477.3 39.7L475.6 40.4L473.8 39.7L473.8 37.7L473.3 35.7L472.0 35.0ZM466.8 54.6L468.0 52.8L468.5 53.2L467.4 54.9Z"/>
</g>
<path class="m" stroke="#4d52a6" d="M449.9 59.1H454.7M452.3 56.7V61.5M450.6 57.4L454.0 60.9M450.6 60.9L454.0 57.4"/>
<path class="m" stroke="#4d52a6" d="M437.0 72.7H441.8M439.4 70.3V75.1M437.7 71.0L441.2 74.4M437.7 74.4L441.2 71.0"/>
<path class="m" stroke="#4d52a6" d="M451.7 73.7H456.5M454.1 71.3V76.1M452.4 72.0L455.9 75.4M452.4 75.4L455.9 72.0"/>
<path class="m" stroke="#4d52a6" d="M460.3 70.3H465.1M462.7 67.9V72.7M461.0 68.6L464.4 72.0M461.0 72.0L464.4 68.6"/>
<path class="m" stroke="#4d52a6" d="M463.9 72.4H468.7M466.3 70.0V74.8M464.6 70.7L468.0 74.2M464.6 74.2L468.0 70.7"/>
<path class="m" stroke="#4d52a6" d="M461.3 76.0H466.1M463.7 73.6V78.4M462.0 74.3L465.4 77.7M462.0 77.7L465.4 74.3"/>
<path class="m" stroke="#4d52a6" d="M458.5 84.1H463.3M460.9 81.7V86.5M459.1 82.4L462.6 85.9M459.1 85.9L462.6 82.4"/>
<path class="m" stroke="#4d52a6" d="M470.6 68.9H475.4M473.0 66.5V71.3M471.3 67.1L474.7 70.6M471.3 70.6L474.7 67.1"/>
<path class="m" stroke="#4d52a6" d="M471.7 76.3H476.5M474.1 73.9V78.7M472.4 74.6L475.9 78.0M472.4 78.0L475.9 74.6"/>
<path class="m" stroke="#4d52a6" d="M476.6 77.4H481.4M479.0 75.0V79.8M477.3 75.7L480.7 79.2M477.3 79.2L480.7 75.7"/>
<path class="m" stroke="#4d52a6" d="M417.7 89.9H422.5M420.1 87.5V92.3M418.4 88.1L421.9 91.6M418.4 91.6L421.9 88.1"/>
<path class="m" stroke="#4d52a6" d="M426.7 90.9H431.5M429.1 88.5V93.3M427.4 89.1L430.9 92.6M427.4 92.6L430.9 89.1"/>
<path class="m" stroke="#4d52a6" d="M434.9 92.0H439.7M437.3 89.6V94.4M435.6 90.3L439.0 93.7M435.6 93.7L439.0 90.3"/>
<path class="m" stroke="#4d52a6" d="M411.3 97.0H416.1M413.7 94.6V99.4M412.0 95.3L415.4 98.7M412.0 98.7L415.4 95.3"/>
<path class="m" stroke="#4d52a6" d="M427.5 97.3H432.3M429.9 94.9V99.7M428.1 95.6L431.6 99.0M428.1 99.0L431.6 95.6"/>
<path class="m" stroke="#4d52a6" d="M464.6 89.4H469.4M467.0 87.0V91.8M465.3 87.7L468.7 91.2M465.3 91.2L468.7 87.7"/>
<path class="m" stroke="#4d52a6" d="M469.2 91.3H474.0M471.6 88.9V93.7M469.8 89.6L473.3 93.0M469.8 93.0L473.3 89.6"/>
<path class="m" stroke="#4d52a6" d="M471.7 100.9H476.5M474.1 98.5V103.3M472.4 99.1L475.9 102.6M472.4 102.6L475.9 99.1"/>
<path class="m" stroke="#4d52a6" d="M494.9 63.4H499.7M497.3 61.0V65.8M495.6 61.7L499.0 65.2M495.6 65.2L499.0 61.7"/>
<path class="m" stroke="#4d52a6" d="M494.2 101.3H499.0M496.6 98.9V103.7M494.8 99.6L498.3 103.0M494.8 103.0L498.3 99.6"/>
<path class="m" stroke="#ec3c3c" d="M474.9 53.7H479.7M477.3 51.3V56.1M475.6 52.0L479.0 55.4M475.6 55.4L479.0 52.0"/>
<path class="m" stroke="#ec3c3c" d="M472.7 67.0H477.5M475.1 64.6V69.4M473.4 65.3L476.9 68.7M473.4 68.7L476.9 65.3"/>
<path class="m" stroke="#ec3c3c" d="M422.0 73.1H426.8M424.4 70.7V75.5M422.7 71.4L426.2 74.9M422.7 74.9L426.2 71.4"/>
<path class="m" stroke="#ec3c3c" d="M429.9 79.4H434.7M432.3 77.0V81.8M430.6 77.7L434.0 81.2M430.6 81.2L434.0 77.7"/>
<path class="m" stroke="#ec3c3c" d="M432.0 86.3H436.8M434.4 83.9V88.7M432.7 84.6L436.2 88.0M432.7 88.0L436.2 84.6"/>
<path class="m" stroke="#ec3c3c" d="M442.7 85.1H447.5M445.1 82.7V87.5M443.4 83.4L446.9 86.9M443.4 86.9L446.9 83.4"/>
<path class="m" stroke="#ec3c3c" d="M439.6 92.0H444.4M442.0 89.6V94.4M440.3 90.3L443.7 93.7M440.3 93.7L443.7 90.3"/>
<path class="m" stroke="#ec3c3c" d="M477.7 88.4H482.5M480.1 86.0V90.8M478.4 86.7L481.9 90.2M478.4 90.2L481.9 86.7"/>
<path class="m" stroke="#ec3c3c" d="M482.0 92.0H486.8M484.4 89.6V94.4M482.7 90.3L486.2 93.7M482.7 93.7L486.2 90.3"/>
<path class="m" stroke="#ec3c3c" d="M473.2 92.3H478.0M475.6 89.9V94.7M473.8 90.6L477.3 94.0M473.8 94.0L477.3 90.6"/>
<path class="m" stroke="#ec3c3c" d="M461.7 99.4H466.5M464.1 97.0V101.8M462.4 97.7L465.9 101.2M462.4 101.2L465.9 97.7"/>
<path class="m" stroke="#ec3c3c" d="M489.9 92.0H494.7M492.3 89.6V94.4M490.6 90.3L494.0 93.7M490.6 93.7L494.0 90.3"/>
<path class="m" stroke="#ffe430" d="M396.3 69.1H401.1M398.7 66.7V71.5M397.0 67.4L400.4 70.9M397.0 70.9L400.4 67.4"/>
<path class="m" stroke="#ffe430" d="M477.0 53.1H481.8M479.4 50.7V55.5M477.7 51.4L481.2 54.9M477.7 54.9L481.2 51.4"/>
<path class="m" stroke="#ffe430" d="M458.5 64.9H463.3M460.9 62.5V67.3M459.1 63.1L462.6 66.6M459.1 66.6L462.6 63.1"/>
<path class="m" stroke="#ffe430" d="M464.2 64.4H469.0M466.6 62.0V66.8M464.8 62.7L468.3 66.2M464.8 66.2L468.3 62.7"/>
<path class="m" stroke="#ffe430" d="M491.3 63.7H496.1M493.7 61.3V66.1M492.0 62.0L495.4 65.4M492.0 65.4L495.4 62.0"/>
<path class="m" stroke="#ffe430" d="M423.5 72.0H428.3M425.9 69.6V74.4M424.1 70.3L427.6 73.7M424.1 73.7L427.6 70.3"/>
<path class="m" stroke="#ffe430" d="M431.6 72.0H436.4M434.0 69.6V74.4M432.3 70.3L435.7 73.7M432.3 73.7L435.7 70.3"/>
<path class="m" stroke="#ffe430" d="M438.7 69.6H443.5M441.1 67.2V72.0M439.4 67.8L442.9 71.3M439.4 71.3L442.9 67.8"/>
<path class="m" stroke="#ffe430" d="M449.2 73.1H454.0M451.6 70.7V75.5M449.8 71.4L453.3 74.9M449.8 74.9L453.3 71.4"/>
<path class="m" stroke="#ffe430" d="M455.3 78.9H460.1M457.7 76.5V81.3M456.0 77.1L459.4 80.6M456.0 80.6L459.4 77.1"/>
<path class="m" stroke="#ffe430" d="M462.5 80.3H467.3M464.9 77.9V82.7M463.1 78.6L466.6 82.0M463.1 82.0L466.6 78.6"/>
<path class="m" stroke="#ffe430" d="M467.0 77.7H471.8M469.4 75.3V80.1M467.7 76.0L471.2 79.4M467.7 79.4L471.2 76.0"/>
<path class="m" stroke="#ffe430" d="M470.6 72.7H475.4M473.0 70.3V75.1M471.3 71.0L474.7 74.4M471.3 74.4L474.7 71.0"/>
<path class="m" stroke="#ffe430" d="M476.3 70.6H481.1M478.7 68.2V73.0M477.0 68.8L480.4 72.3M477.0 72.3L480.4 68.8"/>
<path class="m" stroke="#ffe430" d="M431.3 79.9H436.1M433.7 77.5V82.3M432.0 78.1L435.4 81.6M432.0 81.6L435.4 78.1"/>
<path class="m" stroke="#ffe430" d="M429.2 84.1H434.0M431.6 81.7V86.5M429.8 82.4L433.3 85.9M429.8 85.9L433.3 82.4"/>
<path class="m" stroke="#ffe430" d="M438.0 86.0H442.8M440.4 83.6V88.4M438.7 84.3L442.2 87.7M438.7 87.7L442.2 84.3"/>
<path class="m" stroke="#ffe430" d="M466.6 88.0H471.4M469.0 85.6V90.4M467.3 86.3L470.7 89.7M467.3 89.7L470.7 86.3"/>
<path class="m" stroke="#ffe430" d="M470.6 94.9H475.4M473.0 92.5V97.3M471.3 93.1L474.7 96.6M471.3 96.6L474.7 93.1"/>
<path class="m" stroke="#ffe430" d="M476.7 96.3H481.5M479.1 93.9V98.7M477.4 94.6L480.9 98.0M477.4 98.0L480.9 94.6"/>
<path class="m" stroke="#ffe430" d="M473.2 99.4H478.0M475.6 97.0V101.8M473.8 97.7L477.3 101.2M473.8 101.2L477.3 97.7"/>
<path class="m" stroke="#ffe430" d="M489.9 96.3H494.7M492.3 93.9V98.7M490.6 94.6L494.0 98.0M490.6 98.0L494.0 94.6"/>
<path class="m" stroke="#ffe430" d="M489.2 99.4H494.0M491.6 97.0V101.8M489.8 97.7L493.3 101.2M489.8 101.2L493.3 97.7"/>
<path class="m" stroke="#ffe430" d="M492.0 91.3H496.8M494.4 88.9V93.7M492.7 89.6L496.2 93.0M492.7 93.0L496.2 89.6"/>
<path class="m" stroke="#4d52a6" d="M538.9 47.4H543.7M541.3 45.0V49.8M539.6 45.7L543.0 49.2M539.6 49.2L543.0 45.7"/>
<path class="m" stroke="#4d52a6" d="M524.2 58.4H529.0M526.6 56.0V60.8M524.8 56.7L528.3 60.2M524.8 60.2L528.3 56.7"/>
<path class="m" stroke="#4d52a6" d="M535.2 61.7H540.0M537.6 59.3V64.1M535.8 60.0L539.3 63.4M535.8 63.4L539.3 60.0"/>
<path class="m" stroke="#4d52a6" d="M512.5 67.7H517.3M514.9 65.3V70.1M513.1 66.0L516.6 69.4M513.1 69.4L516.6 66.0"/>
<path class="m" stroke="#4d52a6" d="M516.3 72.4H521.1M518.7 70.0V74.8M517.0 70.7L520.4 74.2M517.0 74.2L520.4 70.7"/>
<path class="m" stroke="#4d52a6" d="M508.7 87.4H513.5M511.1 85.0V89.8M509.4 85.7L512.9 89.2M509.4 89.2L512.9 85.7"/>
<path class="m" stroke="#4d52a6" d="M509.6 93.7H514.4M512.0 91.3V96.1M510.3 92.0L513.7 95.4M510.3 95.4L513.7 92.0"/>
<path class="m" stroke="#4d52a6" d="M513.9 96.0H518.7M516.3 93.6V98.4M514.6 94.3L518.0 97.7M514.6 97.7L518.0 94.3"/>
<path class="m" stroke="#4d52a6" d="M504.9 98.4H509.7M507.3 96.0V100.8M505.6 96.7L509.0 100.2M505.6 100.2L509.0 96.7"/>
<path class="m" stroke="#4d52a6" d="M587.7 55.6H592.5M590.1 53.2V58.0M588.4 53.8L591.9 57.3M588.4 57.3L591.9 53.8"/>
<path class="m" stroke="#4d52a6" d="M552.7 106.6H557.5M555.1 104.2V109.0M553.4 104.8L556.9 108.3M553.4 108.3L556.9 104.8"/>
<path class="m" stroke="#ec3c3c" d="M547.0 54.1H551.8M549.4 51.7V56.5M547.7 52.4L551.2 55.9M547.7 55.9L551.2 52.4"/>
<path class="m" stroke="#ec3c3c" d="M499.5 61.7H504.3M501.9 59.3V64.1M500.1 60.0L503.6 63.4M500.1 63.4L503.6 60.0"/>
<path class="m" stroke="#ec3c3c" d="M563.0 67.4H567.8M565.4 65.0V69.8M563.7 65.7L567.2 69.2M563.7 69.2L567.2 65.7"/>
<path class="m" stroke="#ec3c3c" d="M551.0 72.7H555.8M553.4 70.3V75.1M551.7 71.0L555.2 74.4M551.7 74.4L555.2 71.0"/>
<path class="m" stroke="#ec3c3c" d="M560.2 90.1H565.0M562.6 87.7V92.5M560.8 88.4L564.3 91.9M560.8 91.9L564.3 88.4"/>
<path class="m" stroke="#ec3c3c" d="M560.2 96.6H565.0M562.6 94.2V99.0M560.8 94.8L564.3 98.3M560.8 98.3L564.3 94.8"/>
<path class="m" stroke="#ec3c3c" d="M498.7 92.4H503.5M501.1 90.0V94.8M499.4 90.7L502.9 94.2M499.4 94.2L502.9 90.7"/>
<path class="m" stroke="#ec3c3c" d="M511.3 94.6H516.1M513.7 92.2V97.0M512.0 92.8L515.4 96.3M512.0 96.3L515.4 92.8"/>
<path class="m" stroke="#ffe430" d="M533.0 42.4H537.8M535.4 40.0V44.8M533.7 40.7L537.2 44.2M533.7 44.2L537.2 40.7"/>
<path class="m" stroke="#ffe430" d="M504.5 54.1H509.3M506.9 51.7V56.5M505.1 52.4L508.6 55.9M505.1 55.9L508.6 52.4"/>
<path class="m" stroke="#ffe430" d="M552.3 61.7H557.1M554.7 59.3V64.1M553.0 60.0L556.4 63.4M553.0 63.4L556.4 60.0"/>
<path class="m" stroke="#ffe430" d="M502.5 65.6H507.3M504.9 63.2V68.0M503.1 63.8L506.6 67.3M503.1 67.3L506.6 63.8"/>
<path class="m" stroke="#ffe430" d="M518.5 63.4H523.3M520.9 61.0V65.8M519.1 61.7L522.6 65.2M519.1 65.2L522.6 61.7"/>
<path class="m" stroke="#ffe430" d="M522.0 67.7H526.8M524.4 65.3V70.1M522.7 66.0L526.2 69.4M522.7 69.4L526.2 66.0"/>
<path class="m" stroke="#ffe430" d="M526.7 68.7H531.5M529.1 66.3V71.1M527.4 67.0L530.9 70.4M527.4 70.4L530.9 67.0"/>
<path class="m" stroke="#ffe430" d="M533.0 66.6H537.8M535.4 64.2V69.0M533.7 64.8L537.2 68.3M533.7 68.3L537.2 64.8"/>
<path class="m" stroke="#ffe430" d="M536.7 67.3H541.5M539.1 64.9V69.7M537.4 65.6L540.9 69.0M537.4 69.0L540.9 65.6"/>
<path class="m" stroke="#ffe430" d="M553.2 71.0H558.0M555.6 68.6V73.4M553.8 69.3L557.3 72.7M553.8 72.7L557.3 69.3"/>
<path class="m" stroke="#ffe430" d="M579.5 70.3H584.3M581.9 67.9V72.7M580.1 68.6L583.6 72.0M580.1 72.0L583.6 68.6"/>
<path class="m" stroke="#ffe430" d="M589.9 77.7H594.7M592.3 75.3V80.1M590.6 76.0L594.0 79.4M590.6 79.4L594.0 76.0"/>
<path class="m" stroke="#ffe430" d="M506.3 74.9H511.1M508.7 72.5V77.3M507.0 73.1L510.4 76.6M507.0 76.6L510.4 73.1"/>
<path class="m" stroke="#ffe430" d="M531.3 74.1H536.1M533.7 71.7V76.5M532.0 72.4L535.4 75.9M532.0 75.9L535.4 72.4"/>
<path class="m" stroke="#ffe430" d="M530.2 80.6H535.0M532.6 78.2V83.0M530.8 78.8L534.3 82.3M530.8 82.3L534.3 78.8"/>
<path class="m" stroke="#ffe430" d="M509.9 80.3H514.7M512.3 77.9V82.7M510.6 78.6L514.0 82.0M510.6 82.0L514.0 78.6"/>
<path class="m" stroke="#ffe430" d="M513.5 79.9H518.3M515.9 77.5V82.3M514.1 78.1L517.6 81.6M514.1 81.6L517.6 78.1"/>
<path class="m" stroke="#ffe430" d="M511.0 84.4H515.8M513.4 82.0V86.8M511.7 82.7L515.2 86.2M511.7 86.2L515.2 82.7"/>
<path class="m" stroke="#ffe430" d="M498.2 80.3H503.0M500.6 77.9V82.7M498.8 78.6L502.3 82.0M498.8 82.0L502.3 78.6"/>
<path class="m" stroke="#ffe430" d="M502.0 87.7H506.8M504.4 85.3V90.1M502.7 86.0L506.2 89.4M502.7 89.4L506.2 86.0"/>
<path class="m" stroke="#ffe430" d="M496.3 88.4H501.1M498.7 86.0V90.8M497.0 86.7L500.4 90.2M497.0 90.2L500.4 86.7"/>
<path class="m" stroke="#ffe430" d="M564.2 93.9H569.0M566.6 91.5V96.3M564.8 92.1L568.3 95.6M564.8 95.6L568.3 92.1"/>
<path class="m" stroke="#ffe430" d="M525.6 103.0H530.4M528.0 100.6V105.4M526.3 101.3L529.7 104.7M526.3 104.7L529.7 101.3"/>
<path class="m" stroke="#ffe430" d="M497.0 100.1H501.8M499.4 97.7V102.5M497.7 98.4L501.2 101.9M497.7 101.9L501.2 98.4"/>
<path class="m" stroke="#ffe430" d="M608.2 69.4H613.0M610.6 67.0V71.8M608.8 67.7L612.3 71.2M608.8 71.2L612.3 67.7"/>
<ellipse class="c" cx="493.3" cy="82.2" rx="4.3" ry="4.3" fill="#ea3030"/>
<ellipse class="c" cx="485.5" cy="82.7" rx="5.2" ry="4.8" fill="#414a9a"/>
<ellipse class="c" cx="495.9" cy="77.4" rx="3.8" ry="3.9" fill="#ffea48"/>
<rect class="fr2" x="383.5" y="12.5" width="298.9" height="114.9"/>
<line class="tk" x1="443.3" y1="127.10000000000001" x2="443.3" y2="124.2"/>
<line class="tk" x1="503.1" y1="127.10000000000001" x2="503.1" y2="124.2"/>
<line class="tk" x1="562.9" y1="127.10000000000001" x2="562.9" y2="124.2"/>
<line class="tk" x1="622.7" y1="127.10000000000001" x2="622.7" y2="124.2"/>
<line class="tk" x1="383.8" y1="43.3" x2="386.8" y2="43.3"/>
<line class="tk" x1="383.8" y1="72.3" x2="386.8" y2="72.3"/>
<line class="tk" x1="383.8" y1="100.1" x2="386.8" y2="100.1"/>
<text class="t" transform="translate(375.60 139.90) scale(0.9 1)">100</text>
<text class="t" transform="translate(434.85 139.90) scale(0.9 1)">120</text>
<text class="t" transform="translate(495.60 139.90) scale(0.9 1)">140</text>
<text class="t" transform="translate(554.35 139.90) scale(0.9 1)">160</text>
<text class="e" transform="translate(572.82 139.90) scale(0.9 1)">°E</text>
<text class="t" transform="translate(612.90 139.90) scale(0.9 1)">180°</text>
<text class="t" transform="translate(667.45 139.90) scale(0.9 1)">160</text>
<text class="e" transform="translate(684.13 139.90) scale(0.9 1)">°W</text>
<text class="t" transform="translate(368.77 17.00) scale(0.9 1)">40</text>
<text class="t" transform="translate(368.61 48.20) scale(0.9 1)">30</text>
<text class="t" transform="translate(368.61 77.00) scale(0.9 1)">20</text>
<text class="t" transform="translate(368.39 103.80) scale(0.9 1)">10</text>
<text class="t" transform="translate(373.80 131.90) scale(0.9 1)">0</text>
<text class="u" transform="translate(365.18 9.00) scale(0.92 1)">°N</text>
<text class="g" x="384.42" y="9.30">(d)</text>
<text class="cj" x="513.42" y="9.20">台风</text>
<text class="t" transform="translate(537.63 9.20) scale(0.9 1)">TY</text>
</g>
<g id="panel-b">
<rect class="fr" x="18.5" y="170.3" width="298.2" height="113.6"/>
<clipPath id="cpb"><rect x="18.0" y="169.8" width="299.2" height="114.6"/></clipPath>
<g clip-path="url(#cpb)">
<path class="land" d="M15.5 165.3L76.2 165.3L76.0 169.8L74.0 171.5L71.0 173.5L72.5 174.5L74.5 177.1L76.5 179.6L78.5 178.1L80.5 177.6L82.6 178.6L85.1 179.1L82.6 180.1L79.5 181.6L77.5 183.6L75.5 185.1L76.0 187.2L78.5 187.7L80.0 190.7L82.6 194.2L83.6 196.2L82.6 198.3L79.5 199.8L84.1 200.3L84.6 201.3L82.6 204.3L80.5 207.3L78.5 209.0L77.0 211.1L75.5 213.6L74.0 215.6L72.0 217.6L69.4 219.1L66.9 220.3L64.4 221.1L61.4 221.9L58.3 223.0L55.3 223.7L52.8 224.2L50.3 225.0L48.5 225.7L48.1 226.7L48.9 228.0L48.1 228.4L47.3 227.2L46.7 225.7L45.7 224.7L43.2 224.4L41.2 225.0L39.2 226.0L37.2 227.4L35.7 229.2L34.9 231.4L35.7 233.2L37.2 234.8L39.2 236.3L41.2 238.3L43.2 240.3L44.7 242.8L45.4 245.0L45.7 248.6L45.4 252.1L43.7 254.1L41.7 255.6L39.2 257.1L36.7 258.2L34.6 259.7L32.9 260.4L32.1 258.7L31.6 256.6L29.9 255.1L28.1 253.6L26.6 251.6L24.6 249.6L22.0 248.6L20.0 247.6L17.5 247.1ZM17.5 260.7L18.5 261.2L19.5 262.7L20.5 264.2L22.5 265.6L25.3 267.7L27.7 269.3L28.5 271.4L28.6 274.7L29.4 277.0L30.8 278.5L30.6 280.2L28.9 280.4L27.4 279.8L26.3 278.7L24.9 277.2L23.1 275.5L21.4 273.8L20.3 271.5L19.7 269.8L18.6 269.1L17.5 268.8ZM17.5 276.3L18.3 276.6L19.7 277.6L21.4 278.3L23.1 279.3L25.4 280.5L27.1 281.3L27.7 282.9L28.9 283.7L29.1 285.3L17.5 285.3ZM44.4 231.4L45.2 230.2L46.7 229.2L48.8 228.7L50.5 229.0L51.1 230.2L50.3 232.0L48.8 233.4L46.7 234.3L45.0 233.7L44.2 232.7ZM81.0 214.3L82.6 214.1L83.6 215.1L83.8 216.9L83.1 219.1L82.1 221.1L81.0 223.2L80.3 223.7L79.5 222.1L79.0 220.1L79.0 218.1L79.5 216.1ZM44.7 284.4L44.4 281.9L45.4 279.8L46.7 278.8L49.3 278.5L52.3 278.1L52.8 276.5L55.3 276.1L57.3 275.3L59.4 273.8L60.9 271.8L62.9 270.8L64.4 269.3L65.9 267.2L67.4 266.2L69.4 266.0L71.0 266.7L72.0 268.2L74.0 269.3L75.7 269.8L75.3 270.8L73.5 271.5L72.5 272.8L71.5 274.8L72.0 276.8L73.0 278.8L72.5 280.3L74.0 281.4L73.3 282.4L71.5 284.4ZM69.2 261.7L71.5 260.0L74.0 258.0L76.0 255.6L76.8 254.6L77.2 255.1L76.4 256.6L74.6 258.8L72.1 260.8L69.6 262.3ZM77.3 284.5L78.0 282.1L80.9 280.7L85.1 280.7L89.4 281.4L92.3 280.0L93.7 279.7L93.0 281.4L90.9 283.5L89.4 284.5ZM99.4 284.5L99.7 281.4L100.9 278.5L102.3 280.7L103.7 280.2L103.0 282.1L103.4 284.5ZM79.7 234.0L81.7 233.5L83.7 234.2L85.2 233.8L85.4 235.0L84.2 236.5L83.7 238.6L83.4 241.1L84.0 243.1L84.7 245.1L86.2 245.9L88.2 246.1L89.8 247.1L90.8 248.6L89.8 249.3L88.2 248.1L86.4 247.1L84.7 246.9L83.2 247.1L82.7 248.6L82.4 250.2L81.4 251.0L80.2 250.0L80.0 248.1L80.7 246.6L79.7 245.1L78.2 244.1L77.7 242.1L78.7 240.6L79.0 238.1L79.2 236.0ZM91.3 250.2L92.8 250.0L94.3 250.7L95.1 252.7L94.8 254.7L93.8 256.2L92.5 255.7L92.1 253.7L91.1 252.2ZM83.4 251.2L84.7 251.7L86.2 253.2L87.7 254.7L89.3 255.7L90.8 256.2L91.5 257.7L90.3 258.4L88.7 258.0L87.2 259.2L85.7 259.0L85.2 257.2L84.2 255.7L83.4 253.7ZM84.2 264.8L84.7 263.1L86.4 262.3L88.2 261.3L89.8 261.8L91.3 260.2L92.8 259.0L94.8 258.4L96.5 259.2L97.8 261.3L98.1 263.8L97.3 266.3L95.8 268.1L93.8 268.8L91.8 268.1L90.3 267.3L89.3 265.8L89.8 263.8L88.2 262.8L86.4 263.5L85.2 265.1ZM91.8 165.3L92.6 169.5L92.1 173.0L91.9 175.6L93.1 176.6L95.7 177.6L96.7 179.1L96.4 180.6L97.7 182.1L97.2 184.6L97.7 186.7L99.7 187.2L102.2 186.7L104.4 185.3L105.7 183.1L106.2 180.6L105.4 178.1L104.2 176.1L102.7 174.1L101.7 172.0L100.7 169.5L100.7 165.3ZM82.0 165.3L82.0 169.5L81.5 173.5L83.0 173.0L85.6 171.5L87.1 169.5L87.1 165.3ZM138.3 165.3L138.5 169.5L137.5 173.0L136.0 175.1L134.5 176.6L132.5 177.6L130.5 178.1L128.9 178.1L128.4 179.6L126.9 180.6L125.4 182.1L124.9 183.3L122.4 183.6L119.4 183.9L116.3 184.1L114.3 185.1L112.8 186.2L111.3 187.2L110.5 188.2L111.3 189.0L112.8 188.7L114.3 187.7L116.3 187.2L118.3 187.0L120.9 187.0L122.9 187.4L123.4 189.2L124.4 190.4L125.4 189.7L126.4 188.2L127.4 186.7L128.9 186.0L130.5 186.7L132.0 186.2L133.3 185.1L134.0 186.7L135.0 185.3L136.5 186.2L138.0 184.6L139.0 183.6L140.0 182.1L140.5 180.1L141.0 178.1L142.6 176.6L143.6 174.1L144.1 172.0L143.6 169.5L143.7 165.3ZM114.8 190.7L115.8 189.2L117.8 188.7L119.9 188.2L121.9 189.2L120.9 190.4L118.9 191.0L116.8 192.2L115.3 192.2ZM106.2 190.7L108.3 190.0L110.3 189.7L112.3 190.7L113.3 192.7L112.8 195.0L111.8 196.7L110.1 197.5L108.3 196.7L108.3 194.7L107.8 192.7L106.4 192.0ZM101.3 211.8L102.4 210.0L103.0 210.4L101.9 212.1Z"/>
</g>
<path class="m" stroke="#4d52a6" d="M134.5 204.7H139.3M136.9 202.3V207.1M135.1 203.0L138.6 206.4M135.1 206.4L138.6 203.0"/>
<path class="m" stroke="#4d52a6" d="M130.6 208.9H135.4M133.0 206.5V211.3M131.3 207.1L134.7 210.6M131.3 210.6L134.7 207.1"/>
<path class="m" stroke="#4d52a6" d="M135.3 214.3H140.1M137.7 211.9V216.7M136.0 212.6L139.4 216.0M136.0 216.0L139.4 212.6"/>
<path class="m" stroke="#4d52a6" d="M129.2 220.4H134.0M131.6 218.0V222.8M129.8 218.7L133.3 222.2M129.8 222.2L133.3 218.7"/>
<path class="m" stroke="#4d52a6" d="M87.3 217.4H92.1M89.7 215.0V219.8M88.0 215.7L91.4 219.2M88.0 219.2L91.4 215.7"/>
<path class="m" stroke="#4d52a6" d="M61.0 230.7H65.8M63.4 228.3V233.1M61.7 229.0L65.2 232.4M61.7 232.4L65.2 229.0"/>
<path class="m" stroke="#4d52a6" d="M55.3 232.6H60.1M57.7 230.2V235.0M56.0 230.8L59.4 234.3M56.0 234.3L59.4 230.8"/>
<path class="m" stroke="#4d52a6" d="M54.9 236.4H59.7M57.3 234.0V238.8M55.6 234.7L59.0 238.2M55.6 238.2L59.0 234.7"/>
<path class="m" stroke="#4d52a6" d="M64.9 246.9H69.7M67.3 244.5V249.3M65.6 245.1L69.0 248.6M65.6 248.6L69.0 245.1"/>
<path class="m" stroke="#4d52a6" d="M100.6 234.3H105.4M103.0 231.9V236.7M101.3 232.6L104.7 236.0M101.3 236.0L104.7 232.6"/>
<path class="m" stroke="#4d52a6" d="M137.0 235.4H141.8M139.4 233.0V237.8M137.7 233.7L141.2 237.2M137.7 237.2L141.2 233.7"/>
<path class="m" stroke="#4d52a6" d="M135.9 240.7H140.7M138.3 238.3V243.1M136.6 239.0L140.0 242.4M136.6 242.4L140.0 239.0"/>
<path class="m" stroke="#4d52a6" d="M120.2 248.9H125.0M122.6 246.5V251.3M120.8 247.1L124.3 250.6M120.8 250.6L124.3 247.1"/>
<path class="m" stroke="#ec3c3c" d="M111.6 210.4H116.4M114.0 208.0V212.8M112.3 208.7L115.7 212.2M112.3 212.2L115.7 208.7"/>
<path class="m" stroke="#ec3c3c" d="M52.7 236.4H57.5M55.1 234.0V238.8M53.4 234.7L56.9 238.2M53.4 238.2L56.9 234.7"/>
<path class="m" stroke="#ec3c3c" d="M65.6 241.7H70.4M68.0 239.3V244.1M66.3 240.0L69.7 243.4M66.3 243.4L69.7 240.0"/>
<path class="m" stroke="#ec3c3c" d="M51.6 244.3H56.4M54.0 241.9V246.7M52.3 242.6L55.7 246.0M52.3 246.0L55.7 242.6"/>
<path class="m" stroke="#ec3c3c" d="M95.9 248.6H100.7M98.3 246.2V251.0M96.6 246.8L100.0 250.3M96.6 250.3L100.0 246.8"/>
<path class="m" stroke="#ec3c3c" d="M135.6 247.4H140.4M138.0 245.0V249.8M136.3 245.7L139.7 249.2M136.3 249.2L139.7 245.7"/>
<path class="m" stroke="#ffe430" d="M97.7 215.0H102.5M100.1 212.6V217.4M98.4 213.3L101.9 216.7M98.4 216.7L101.9 213.3"/>
<path class="m" stroke="#ffe430" d="M142.0 212.9H146.8M144.4 210.5V215.3M142.7 211.1L146.2 214.6M142.7 214.6L146.2 211.1"/>
<path class="m" stroke="#ffe430" d="M108.2 225.0H113.0M110.6 222.6V227.4M108.8 223.3L112.3 226.7M108.8 226.7L112.3 223.3"/>
<path class="m" stroke="#ffe430" d="M53.5 229.7H58.3M55.9 227.3V232.1M54.1 228.0L57.6 231.4M54.1 231.4L57.6 228.0"/>
<path class="m" stroke="#ffe430" d="M67.5 233.6H72.3M69.9 231.2V236.0M68.1 231.8L71.6 235.3M68.1 235.3L71.6 231.8"/>
<path class="m" stroke="#ffe430" d="M69.6 237.9H74.4M72.0 235.5V240.3M70.3 236.1L73.7 239.6M70.3 239.6L73.7 236.1"/>
<path class="m" stroke="#ffe430" d="M58.2 240.0H63.0M60.6 237.6V242.4M58.8 238.3L62.3 241.7M58.8 241.7L62.3 238.3"/>
<path class="m" stroke="#ffe430" d="M52.0 240.7H56.8M54.4 238.3V243.1M52.7 239.0L56.2 242.4M52.7 242.4L56.2 239.0"/>
<path class="m" stroke="#ffe430" d="M73.2 242.1H78.0M75.6 239.7V244.5M73.8 240.4L77.3 243.9M73.8 243.9L77.3 240.4"/>
<path class="m" stroke="#ffe430" d="M70.2 249.0H75.0M72.6 246.6V251.4M70.8 247.3L74.3 250.7M70.8 250.7L74.3 247.3"/>
<path class="m" stroke="#ffe430" d="M111.0 249.6H115.8M113.4 247.2V252.0M111.7 247.8L115.2 251.3M111.7 251.3L115.2 247.8"/>
<path class="m" stroke="#ffe430" d="M123.5 250.7H128.3M125.9 248.3V253.1M124.1 249.0L127.6 252.4M124.1 252.4L127.6 249.0"/>
<path class="m" stroke="#ffe430" d="M111.7 253.9H116.5M114.1 251.5V256.3M112.4 252.1L115.9 255.6M112.4 255.6L115.9 252.1"/>
<path class="m" stroke="#ffe430" d="M107.7 255.7H112.5M110.1 253.3V258.1M108.4 254.0L111.9 257.4M108.4 257.4L111.9 254.0"/>
<path class="m" stroke="#ffe430" d="M136.7 246.4H141.5M139.1 244.0V248.8M137.4 244.7L140.9 248.2M137.4 248.2L140.9 244.7"/>
<path class="m" stroke="#4d52a6" d="M206.3 196.0H211.1M208.7 193.6V198.4M207.0 194.3L210.4 197.7M207.0 197.7L210.4 194.3"/>
<path class="m" stroke="#4d52a6" d="M229.9 205.3H234.7M232.3 202.9V207.7M230.6 203.6L234.0 207.0M230.6 207.0L234.0 203.6"/>
<path class="m" stroke="#4d52a6" d="M212.7 215.0H217.5M215.1 212.6V217.4M213.4 213.3L216.9 216.7M213.4 216.7L216.9 213.3"/>
<path class="m" stroke="#ec3c3c" d="M158.5 230.4H163.3M160.9 228.0V232.8M159.1 228.7L162.6 232.2M159.1 232.2L162.6 228.7"/>
<path class="m" stroke="#ec3c3c" d="M170.6 251.4H175.4M173.0 249.0V253.8M171.3 249.7L174.7 253.2M171.3 253.2L174.7 249.7"/>
<path class="m" stroke="#ffe430" d="M168.0 213.1H172.8M170.4 210.7V215.5M168.7 211.4L172.2 214.9M168.7 214.9L172.2 211.4"/>
<path class="m" stroke="#ffe430" d="M202.7 218.3H207.5M205.1 215.9V220.7M203.4 216.6L206.9 220.0M203.4 220.0L206.9 216.6"/>
<path class="m" stroke="#ffe430" d="M176.6 223.9H181.4M179.0 221.5V226.3M177.3 222.1L180.7 225.6M177.3 225.6L180.7 222.1"/>
<path class="m" stroke="#ffe430" d="M158.2 242.1H163.0M160.6 239.7V244.5M158.8 240.4L162.3 243.9M158.8 243.9L162.3 240.4"/>
<path class="m" stroke="#ffe430" d="M160.6 249.0H165.4M163.0 246.6V251.4M161.3 247.3L164.7 250.7M161.3 250.7L164.7 247.3"/>
<path class="m" stroke="#ffe430" d="M166.7 254.6H171.5M169.1 252.2V257.0M167.4 252.8L170.9 256.3M167.4 256.3L170.9 252.8"/>
<ellipse class="c" cx="127.4" cy="226.4" rx="5.3" ry="4.7" fill="#414a9a"/>
<ellipse class="c" cx="108.0" cy="239.0" rx="5.1" ry="4.8" fill="#ea3030"/>
<ellipse class="c" cx="118.3" cy="237.0" rx="3.6" ry="3.6" fill="#ffea48"/>
<rect class="fr2" x="18.5" y="170.3" width="298.2" height="113.6"/>
<line class="tk" x1="78.1" y1="283.59999999999997" x2="78.1" y2="280.7"/>
<line class="tk" x1="137.8" y1="283.59999999999997" x2="137.8" y2="280.7"/>
<line class="tk" x1="197.4" y1="283.59999999999997" x2="197.4" y2="280.7"/>
<line class="tk" x1="257.1" y1="283.59999999999997" x2="257.1" y2="280.7"/>
<line class="tk" x1="18.8" y1="200.8" x2="21.8" y2="200.8"/>
<line class="tk" x1="18.8" y1="229.4" x2="21.8" y2="229.4"/>
<line class="tk" x1="18.8" y1="256.9" x2="21.8" y2="256.9"/>
<text class="t" transform="translate(11.70 297.90) scale(0.9 1)">100</text>
<text class="t" transform="translate(71.20 297.90) scale(0.9 1)">120</text>
<text class="t" transform="translate(131.45 297.90) scale(0.9 1)">140</text>
<text class="t" transform="translate(190.25 297.90) scale(0.9 1)">160</text>
<text class="e" transform="translate(208.47 297.90) scale(0.9 1)">°E</text>
<text class="t" transform="translate(248.90 297.90) scale(0.9 1)">180°</text>
<text class="t" transform="translate(303.35 297.90) scale(0.9 1)">160</text>
<text class="e" transform="translate(320.13 297.90) scale(0.9 1)">°W</text>
<text class="t" transform="translate(3.02 174.60) scale(0.9 1)">40</text>
<text class="t" transform="translate(2.86 203.90) scale(0.9 1)">30</text>
<text class="t" transform="translate(2.86 232.20) scale(0.9 1)">20</text>
<text class="t" transform="translate(2.64 259.60) scale(0.9 1)">10</text>
<text class="t" transform="translate(8.60 285.90) scale(0.9 1)">0</text>
<text class="u" transform="translate(1.03 164.00) scale(0.92 1)">°N</text>
<text class="g" x="20.72" y="167.70">(<tspan font-weight="bold">b</tspan>)</text>
<text class="cj" x="138.25" y="165.60">热带风暴</text>
<text class="t" transform="translate(185.51 165.60) scale(0.9 1)">TS</text>
</g>
<g id="panel-e">
<rect class="fr" x="382.6" y="170.3" width="298.9" height="113.6"/>
<clipPath id="cpe"><rect x="382.1" y="169.8" width="299.9" height="114.6"/></clipPath>
<g clip-path="url(#cpe)">
<path class="land" d="M379.6 165.3L440.4 165.3L440.2 169.8L438.2 171.5L435.2 173.5L436.7 174.5L438.7 177.1L440.7 179.6L442.8 178.1L444.8 177.6L446.8 178.6L449.3 179.1L446.8 180.1L443.8 181.6L441.8 183.6L439.7 185.1L440.2 187.2L442.8 187.7L444.3 190.7L446.8 194.2L447.8 196.2L446.8 198.3L443.8 199.8L448.3 200.3L448.8 201.3L446.8 204.3L444.8 207.3L442.8 209.0L441.2 211.1L439.7 213.6L438.2 215.6L436.2 217.6L433.7 219.1L431.1 220.3L428.6 221.1L425.6 221.9L422.5 223.0L419.5 223.7L417.0 224.2L414.5 225.0L412.6 225.7L412.2 226.7L413.0 228.0L412.2 228.4L411.4 227.2L410.9 225.7L409.9 224.7L407.4 224.4L405.4 225.0L403.3 226.0L401.3 227.4L399.8 229.2L399.1 231.4L399.8 233.2L401.3 234.8L403.3 236.3L405.4 238.3L407.4 240.3L408.9 242.8L409.6 245.0L409.9 248.6L409.6 252.1L407.9 254.1L405.9 255.6L403.3 257.1L400.8 258.2L398.8 259.7L397.1 260.4L396.3 258.7L395.7 256.6L394.0 255.1L392.2 253.6L390.7 251.6L388.7 249.6L386.1 248.6L384.1 247.6L381.6 247.1ZM381.6 260.7L382.6 261.2L383.6 262.7L384.6 264.2L386.6 265.6L389.4 267.7L391.8 269.3L392.6 271.4L392.7 274.7L393.5 277.0L394.9 278.5L394.7 280.2L393.0 280.4L391.5 279.8L390.4 278.7L389.0 277.2L387.2 275.5L385.5 273.8L384.4 271.5L383.8 269.8L382.7 269.1L381.6 268.8ZM381.6 276.3L382.4 276.6L383.8 277.6L385.5 278.3L387.2 279.3L389.5 280.5L391.2 281.3L391.8 282.9L393.0 283.7L393.2 285.3L381.6 285.3ZM408.6 231.4L409.4 230.2L410.9 229.2L412.9 228.7L414.7 229.0L415.3 230.2L414.5 232.0L412.9 233.4L410.9 234.3L409.2 233.7L408.4 232.7ZM445.3 214.3L446.8 214.1L447.8 215.1L448.0 216.9L447.3 219.1L446.3 221.1L445.3 223.2L444.6 223.7L443.8 222.1L443.3 220.1L443.3 218.1L443.8 216.1ZM408.9 284.4L408.6 281.9L409.6 279.8L410.9 278.8L413.4 278.5L416.5 278.1L417.0 276.5L419.5 276.1L421.5 275.3L423.6 273.8L425.1 271.8L427.1 270.8L428.6 269.3L430.1 267.2L431.6 266.2L433.7 266.0L435.2 266.7L436.2 268.2L438.2 269.3L439.9 269.8L439.5 270.8L437.7 271.5L436.7 272.8L435.7 274.8L436.2 276.8L437.2 278.8L436.7 280.3L438.2 281.4L437.5 282.4L435.7 284.4ZM433.5 261.7L435.7 260.0L438.2 258.0L440.2 255.6L441.0 254.6L441.4 255.1L440.6 256.6L438.8 258.8L436.3 260.8L433.9 262.3ZM441.5 284.5L442.2 282.1L445.1 280.7L449.4 280.7L453.7 281.4L456.6 280.0L458.0 279.7L457.3 281.4L455.1 283.5L453.7 284.5ZM463.7 284.5L464.0 281.4L465.2 278.5L466.6 280.7L468.0 280.2L467.3 282.1L467.7 284.5ZM443.9 234.0L445.9 233.5L448.0 234.2L449.5 233.8L449.7 235.0L448.5 236.5L448.0 238.6L447.7 241.1L448.3 243.1L449.0 245.1L450.5 245.9L452.5 246.1L454.0 247.1L455.0 248.6L454.0 249.3L452.5 248.1L450.7 247.1L449.0 246.9L447.5 247.1L446.9 248.6L446.6 250.2L445.6 251.0L444.4 250.0L444.2 248.1L444.9 246.6L443.9 245.1L442.4 244.1L441.9 242.1L442.9 240.6L443.2 238.1L443.4 236.0ZM455.5 250.2L457.1 250.0L458.6 250.7L459.4 252.7L459.1 254.7L458.1 256.2L456.8 255.7L456.3 253.7L455.3 252.2ZM447.7 251.2L449.0 251.7L450.5 253.2L452.0 254.7L453.5 255.7L455.0 256.2L455.7 257.7L454.5 258.4L453.0 258.0L451.5 259.2L450.0 259.0L449.5 257.2L448.5 255.7L447.7 253.7ZM448.5 264.8L449.0 263.1L450.7 262.3L452.5 261.3L454.0 261.8L455.5 260.2L457.1 259.0L459.1 258.4L460.8 259.2L462.1 261.3L462.4 263.8L461.6 266.3L460.1 268.1L458.1 268.8L456.0 268.1L454.5 267.3L453.5 265.8L454.0 263.8L452.5 262.8L450.7 263.5L449.5 265.1ZM502.7 165.3L502.9 169.5L501.9 173.0L500.4 175.1L498.9 176.6L496.8 177.6L494.8 178.1L493.3 178.1L492.8 179.6L491.3 180.6L489.8 182.1L489.3 183.3L486.7 183.6L483.7 183.9L480.7 184.1L478.6 185.1L477.1 186.2L475.6 187.2L474.8 188.2L475.6 189.0L477.1 188.7L478.6 187.7L480.7 187.2L482.7 187.0L485.2 187.0L487.2 187.4L487.7 189.2L488.7 190.4L489.8 189.7L490.8 188.2L491.8 186.7L493.3 186.0L494.8 186.7L496.3 186.2L497.6 185.1L498.4 186.7L499.4 185.3L500.9 186.2L502.4 184.6L503.4 183.6L504.4 182.1L504.9 180.1L505.4 178.1L506.9 176.6L508.0 174.1L508.5 172.0L508.0 169.5L508.1 165.3ZM479.1 190.7L480.2 189.2L482.2 188.7L484.2 188.2L486.2 189.2L485.2 190.4L483.2 191.0L481.2 192.2L479.6 192.2ZM470.5 190.7L472.6 190.0L474.6 189.7L476.6 190.7L477.6 192.7L477.1 195.0L476.1 196.7L474.4 197.5L472.6 196.7L472.6 194.7L472.1 192.7L470.8 192.0ZM465.6 211.8L466.7 210.0L467.3 210.4L466.2 212.1Z"/>
</g>
<path class="m" stroke="#4d52a6" d="M472.7 229.3H477.5M475.1 226.9V231.7M473.4 227.6L476.9 231.0M473.4 231.0L476.9 227.6"/>
<path class="m" stroke="#4d52a6" d="M469.3 231.9H474.1M471.7 229.5V234.3M470.0 230.1L473.4 233.6M470.0 233.6L473.4 230.1"/>
<path class="m" stroke="#4d52a6" d="M493.9 234.3H498.7M496.3 231.9V236.7M494.6 232.6L498.0 236.0M494.6 236.0L498.0 232.6"/>
<path class="m" stroke="#4d52a6" d="M486.0 241.0H490.8M488.4 238.6V243.4M486.7 239.3L490.2 242.7M486.7 242.7L490.2 239.3"/>
<path class="m" stroke="#4d52a6" d="M481.0 241.0H485.8M483.4 238.6V243.4M481.7 239.3L485.2 242.7M481.7 242.7L485.2 239.3"/>
<path class="m" stroke="#4d52a6" d="M417.7 254.3H422.5M420.1 251.9V256.7M418.4 252.6L421.9 256.0M418.4 256.0L421.9 252.6"/>
<path class="m" stroke="#4d52a6" d="M496.7 263.6H501.5M499.1 261.2V266.0M497.4 261.8L500.9 265.3M497.4 265.3L500.9 261.8"/>
<path class="m" stroke="#4d52a6" d="M491.3 245.0H496.1M493.7 242.6V247.4M492.0 243.3L495.4 246.7M492.0 246.7L495.4 243.3"/>
<path class="m" stroke="#4d52a6" d="M490.7 258.6H495.5M493.1 256.2V261.0M491.4 256.8L494.9 260.3M491.4 260.3L494.9 256.8"/>
<path class="m" stroke="#ec3c3c" d="M439.9 229.6H444.7M442.3 227.2V232.0M440.6 227.8L444.0 231.3M440.6 231.3L444.0 227.8"/>
<path class="m" stroke="#ec3c3c" d="M458.9 236.1H463.7M461.3 233.7V238.5M459.6 234.4L463.0 237.9M459.6 237.9L463.0 234.4"/>
<path class="m" stroke="#ec3c3c" d="M432.0 247.4H436.8M434.4 245.0V249.8M432.7 245.7L436.2 249.2M432.7 249.2L436.2 245.7"/>
<path class="m" stroke="#ec3c3c" d="M462.2 245.3H467.0M464.6 242.9V247.7M462.8 243.6L466.3 247.0M462.8 247.0L466.3 243.6"/>
<path class="m" stroke="#ec3c3c" d="M479.6 239.7H484.4M482.0 237.3V242.1M480.3 238.0L483.7 241.4M480.3 241.4L483.7 238.0"/>
<path class="m" stroke="#ec3c3c" d="M483.9 242.4H488.7M486.3 240.0V244.8M484.6 240.7L488.0 244.2M484.6 244.2L488.0 240.7"/>
<path class="m" stroke="#ec3c3c" d="M476.7 250.4H481.5M479.1 248.0V252.8M477.4 248.7L480.9 252.2M477.4 252.2L480.9 248.7"/>
<path class="m" stroke="#ec3c3c" d="M502.7 265.0H507.5M505.1 262.6V267.4M503.4 263.3L506.9 266.7M503.4 266.7L506.9 263.3"/>
<path class="m" stroke="#ffe430" d="M471.5 213.1H476.3M473.9 210.7V215.5M472.1 211.4L475.6 214.9M472.1 214.9L475.6 211.4"/>
<path class="m" stroke="#ffe430" d="M448.9 220.0H453.7M451.3 217.6V222.4M449.6 218.3L453.0 221.7M449.6 221.7L453.0 218.3"/>
<path class="m" stroke="#ffe430" d="M423.6 242.1H428.4M426.0 239.7V244.5M424.3 240.4L427.7 243.9M424.3 243.9L427.7 240.4"/>
<path class="m" stroke="#ffe430" d="M460.3 238.6H465.1M462.7 236.2V241.0M461.0 236.8L464.4 240.3M461.0 240.3L464.4 236.8"/>
<path class="m" stroke="#ffe430" d="M466.7 240.7H471.5M469.1 238.3V243.1M467.4 239.0L470.9 242.4M467.4 242.4L470.9 239.0"/>
<path class="m" stroke="#ffe430" d="M474.3 236.1H479.1M476.7 233.7V238.5M475.0 234.4L478.4 237.9M475.0 237.9L478.4 234.4"/>
<path class="m" stroke="#ffe430" d="M438.6 249.3H443.4M441.0 246.9V251.7M439.3 247.6L442.7 251.0M439.3 251.0L442.7 247.6"/>
<path class="m" stroke="#ffe430" d="M465.3 248.6H470.1M467.7 246.2V251.0M466.0 246.8L469.4 250.3M466.0 250.3L469.4 246.8"/>
<path class="m" stroke="#ffe430" d="M472.2 247.1H477.0M474.6 244.7V249.5M472.8 245.4L476.3 248.9M472.8 248.9L476.3 245.4"/>
<path class="m" stroke="#ffe430" d="M482.9 252.1H487.7M485.3 249.7V254.5M483.6 250.4L487.0 253.9M483.6 253.9L487.0 250.4"/>
<path class="m" stroke="#ffe430" d="M489.6 247.4H494.4M492.0 245.0V249.8M490.3 245.7L493.7 249.2M490.3 249.2L493.7 245.7"/>
<path class="m" stroke="#ffe430" d="M499.9 250.7H504.7M502.3 248.3V253.1M500.6 249.0L504.0 252.4M500.6 252.4L504.0 249.0"/>
<path class="m" stroke="#ffe430" d="M492.2 256.1H497.0M494.6 253.7V258.5M492.8 254.4L496.3 257.9M492.8 257.9L496.3 254.4"/>
<path class="m" stroke="#ffe430" d="M490.3 259.0H495.1M492.7 256.6V261.4M491.0 257.3L494.4 260.7M491.0 260.7L494.4 257.3"/>
<path class="m" stroke="#ffe430" d="M507.5 261.4H512.3M509.9 259.0V263.8M508.1 259.7L511.6 263.2M508.1 263.2L511.6 259.7"/>
<path class="m" stroke="#ffe430" d="M498.9 232.9H503.7M501.3 230.5V235.3M499.6 231.1L503.0 234.6M499.6 234.6L503.0 231.1"/>
<path class="m" stroke="#4d52a6" d="M526.5 200.4H531.3M528.9 198.0V202.8M527.1 198.7L530.6 202.2M527.1 202.2L530.6 198.7"/>
<path class="m" stroke="#4d52a6" d="M526.5 224.0H531.3M528.9 221.6V226.4M527.1 222.3L530.6 225.7M527.1 225.7L530.6 222.3"/>
<path class="m" stroke="#4d52a6" d="M533.2 223.3H538.0M535.6 220.9V225.7M533.8 221.6L537.3 225.0M533.8 225.0L537.3 221.6"/>
<path class="m" stroke="#4d52a6" d="M517.9 226.9H522.7M520.3 224.5V229.3M518.6 225.1L522.0 228.6M518.6 228.6L522.0 225.1"/>
<path class="m" stroke="#4d52a6" d="M532.5 235.7H537.3M534.9 233.3V238.1M533.1 234.0L536.6 237.4M533.1 237.4L536.6 234.0"/>
<path class="m" stroke="#4d52a6" d="M512.7 248.1H517.5M515.1 245.7V250.5M513.4 246.4L516.9 249.9M513.4 249.9L516.9 246.4"/>
<path class="m" stroke="#4d52a6" d="M538.5 252.9H543.3M540.9 250.5V255.3M539.1 251.1L542.6 254.6M539.1 254.6L542.6 251.1"/>
<path class="m" stroke="#ec3c3c" d="M547.5 223.9H552.3M549.9 221.5V226.3M548.1 222.1L551.6 225.6M548.1 225.6L551.6 222.1"/>
<path class="m" stroke="#ec3c3c" d="M568.5 218.3H573.3M570.9 215.9V220.7M569.1 216.6L572.6 220.0M569.1 220.0L572.6 216.6"/>
<path class="m" stroke="#ec3c3c" d="M562.5 226.4H567.3M564.9 224.0V228.8M563.1 224.7L566.6 228.2M563.1 228.2L566.6 224.7"/>
<path class="m" stroke="#ec3c3c" d="M527.5 240.7H532.3M529.9 238.3V243.1M528.1 239.0L531.6 242.4M528.1 242.4L531.6 239.0"/>
<path class="m" stroke="#ec3c3c" d="M572.7 249.3H577.5M575.1 246.9V251.7M573.4 247.6L576.9 251.0M573.4 251.0L576.9 247.6"/>
<path class="m" stroke="#ec3c3c" d="M511.0 255.7H515.8M513.4 253.3V258.1M511.7 254.0L515.2 257.4M511.7 257.4L515.2 254.0"/>
<path class="m" stroke="#ec3c3c" d="M514.6 257.1H519.4M517.0 254.7V259.5M515.3 255.4L518.7 258.9M515.3 258.9L518.7 255.4"/>
<path class="m" stroke="#ec3c3c" d="M518.2 260.0H523.0M520.6 257.6V262.4M518.8 258.3L522.3 261.7M518.8 261.7L522.3 258.3"/>
<path class="m" stroke="#ffe430" d="M510.7 224.3H515.5M513.1 221.9V226.7M511.4 222.6L514.9 226.0M511.4 226.0L514.9 222.6"/>
<path class="m" stroke="#ffe430" d="M519.9 224.3H524.7M522.3 221.9V226.7M520.6 222.6L524.0 226.0M520.6 226.0L524.0 222.6"/>
<path class="m" stroke="#ffe430" d="M517.5 230.7H522.3M519.9 228.3V233.1M518.1 229.0L521.6 232.4M518.1 232.4L521.6 229.0"/>
<path class="m" stroke="#ffe430" d="M531.7 234.7H536.5M534.1 232.3V237.1M532.4 233.0L535.9 236.4M532.4 236.4L535.9 233.0"/>
<path class="m" stroke="#ffe430" d="M529.3 238.6H534.1M531.7 236.2V241.0M530.0 236.8L533.4 240.3M530.0 240.3L533.4 236.8"/>
<path class="m" stroke="#ffe430" d="M511.3 241.1H516.1M513.7 238.7V243.5M512.0 239.4L515.4 242.9M512.0 242.9L515.4 239.4"/>
<path class="m" stroke="#ffe430" d="M553.9 240.0H558.7M556.3 237.6V242.4M554.6 238.3L558.0 241.7M554.6 241.7L558.0 238.3"/>
<path class="m" stroke="#ffe430" d="M546.7 248.9H551.5M549.1 246.5V251.3M547.4 247.1L550.9 250.6M547.4 250.6L550.9 247.1"/>
<path class="m" stroke="#ffe430" d="M529.6 249.3H534.4M532.0 246.9V251.7M530.3 247.6L533.7 251.0M530.3 251.0L533.7 247.6"/>
<path class="m" stroke="#ffe430" d="M582.9 245.4H587.7M585.3 243.0V247.8M583.6 243.7L587.0 247.2M583.6 247.2L587.0 243.7"/>
<path class="m" stroke="#ffe430" d="M526.5 259.0H531.3M528.9 256.6V261.4M527.1 257.3L530.6 260.7M527.1 260.7L530.6 257.3"/>
<path class="m" stroke="#ffe430" d="M535.7 262.4H540.5M538.1 260.0V264.8M536.4 260.7L539.9 264.2M536.4 264.2L539.9 260.7"/>
<ellipse class="c" cx="506.9" cy="244.0" rx="4.6" ry="4.5" fill="#ea3030"/>
<ellipse class="c" cx="502.9" cy="239.1" rx="5.3" ry="4.8" fill="#414a9a"/>
<ellipse class="c" cx="499.8" cy="243.1" rx="4.0" ry="3.9" fill="#ffea48"/>
<rect class="fr2" x="382.6" y="170.3" width="298.9" height="113.6"/>
<line class="tk" x1="442.4" y1="283.59999999999997" x2="442.4" y2="280.7"/>
<line class="tk" x1="502.2" y1="283.59999999999997" x2="502.2" y2="280.7"/>
<line class="tk" x1="561.9" y1="283.59999999999997" x2="561.9" y2="280.7"/>
<line class="tk" x1="621.7" y1="283.59999999999997" x2="621.7" y2="280.7"/>
<line class="tk" x1="382.90000000000003" y1="200.8" x2="385.90000000000003" y2="200.8"/>
<line class="tk" x1="382.90000000000003" y1="229.4" x2="385.90000000000003" y2="229.4"/>
<line class="tk" x1="382.90000000000003" y1="256.9" x2="385.90000000000003" y2="256.9"/>
<text class="t" transform="translate(374.35 296.90) scale(0.9 1)">100</text>
<text class="t" transform="translate(433.35 296.90) scale(0.9 1)">120</text>
<text class="t" transform="translate(493.95 296.90) scale(0.9 1)">140</text>
<text class="t" transform="translate(552.75 296.90) scale(0.9 1)">160</text>
<text class="e" transform="translate(574.37 296.90) scale(0.9 1)">°E</text>
<text class="t" transform="translate(611.40 296.90) scale(0.9 1)">180°</text>
<text class="t" transform="translate(668.10 296.90) scale(0.9 1)">160</text>
<text class="e" transform="translate(684.98 296.90) scale(0.9 1)">°W</text>
<text class="t" transform="translate(367.77 174.60) scale(0.9 1)">40</text>
<text class="t" transform="translate(367.61 204.40) scale(0.9 1)">30</text>
<text class="t" transform="translate(367.61 232.90) scale(0.9 1)">20</text>
<text class="t" transform="translate(367.39 259.90) scale(0.9 1)">10</text>
<text class="t" transform="translate(372.80 286.90) scale(0.9 1)">0</text>
<text class="u" transform="translate(366.08 165.50) scale(0.92 1)">°N</text>
<text class="g" x="385.32" y="167.50">(e)</text>
<text class="cj" x="503.55" y="165.60">强台风</text>
<text class="t" transform="translate(538.71 165.60) scale(0.9 1)">STY</text>
</g>
<g id="panel-c">
<rect class="fr" x="18.5" y="328.2" width="298.2" height="113.4"/>
<clipPath id="cpc"><rect x="18.0" y="327.7" width="299.2" height="114.4"/></clipPath>
<g clip-path="url(#cpc)">
<path class="land" d="M15.5 323.2L76.2 323.2L76.0 327.7L74.0 329.4L71.0 331.4L72.5 332.4L74.5 335.0L76.5 337.5L78.5 336.0L80.5 335.5L82.6 336.5L85.1 337.0L82.6 338.0L79.5 339.5L77.5 341.5L75.5 343.0L76.0 345.1L78.5 345.6L80.0 348.6L82.6 352.1L83.6 354.1L82.6 356.2L79.5 357.7L84.1 358.2L84.6 359.2L82.6 362.2L80.5 365.2L78.5 366.9L77.0 369.0L75.5 371.5L74.0 373.5L72.0 375.5L69.4 377.0L66.9 378.2L64.4 379.0L61.4 379.8L58.3 380.9L55.3 381.6L52.8 382.1L50.3 382.9L48.5 383.6L48.1 384.6L48.9 385.9L48.1 386.3L47.3 385.1L46.7 383.6L45.7 382.6L43.2 382.3L41.2 382.9L39.2 383.9L37.2 385.3L35.7 387.1L34.9 389.3L35.7 391.1L37.2 392.7L39.2 394.2L41.2 396.2L43.2 398.2L44.7 400.7L45.4 402.9L45.7 406.5L45.4 410.0L43.7 412.0L41.7 413.5L39.2 415.0L36.7 416.1L34.6 417.6L32.9 418.3L32.1 416.6L31.6 414.5L29.9 413.0L28.1 411.5L26.6 409.5L24.6 407.5L22.0 406.5L20.0 405.5L17.5 405.0ZM17.5 418.6L18.5 419.1L19.5 420.6L20.5 422.1L22.5 423.5L25.3 425.6L27.7 427.2L28.5 429.3L28.6 432.6L29.4 434.9L30.8 436.4L30.6 438.1L28.9 438.3L27.4 437.7L26.3 436.6L24.9 435.1L23.1 433.4L21.4 431.7L20.3 429.4L19.7 427.7L18.6 427.0L17.5 426.7ZM17.5 434.2L18.3 434.5L19.7 435.5L21.4 436.2L23.1 437.2L25.4 438.4L27.1 439.2L27.7 440.8L28.9 441.6L29.1 443.2L17.5 443.2ZM44.4 389.3L45.2 388.1L46.7 387.1L48.8 386.6L50.5 386.9L51.1 388.1L50.3 389.9L48.8 391.3L46.7 392.2L45.0 391.6L44.2 390.6ZM81.0 372.2L82.6 372.0L83.6 373.0L83.8 374.8L83.1 377.0L82.1 379.0L81.0 381.1L80.3 381.6L79.5 380.0L79.0 378.0L79.0 376.0L79.5 374.0ZM44.7 442.3L44.4 439.8L45.4 437.7L46.7 436.7L49.3 436.4L52.3 436.0L52.8 434.4L55.3 434.0L57.3 433.2L59.4 431.7L60.9 429.7L62.9 428.7L64.4 427.2L65.9 425.1L67.4 424.1L69.4 423.9L71.0 424.6L72.0 426.1L74.0 427.2L75.7 427.7L75.3 428.7L73.5 429.4L72.5 430.7L71.5 432.7L72.0 434.7L73.0 436.7L72.5 438.2L74.0 439.3L73.3 440.3L71.5 442.3ZM69.2 419.6L71.5 417.9L74.0 415.9L76.0 413.5L76.8 412.5L77.2 413.0L76.4 414.5L74.6 416.7L72.1 418.7L69.6 420.2ZM77.3 442.4L78.0 440.0L80.9 438.6L85.1 438.6L89.4 439.3L92.3 437.9L93.7 437.6L93.0 439.3L90.9 441.4L89.4 442.4ZM99.4 442.4L99.7 439.3L100.9 436.4L102.3 438.6L103.7 438.1L103.0 440.0L103.4 442.4ZM79.7 391.9L81.7 391.4L83.7 392.1L85.2 391.7L85.4 392.9L84.2 394.4L83.7 396.5L83.4 399.0L84.0 401.0L84.7 403.0L86.2 403.8L88.2 404.0L89.8 405.0L90.8 406.5L89.8 407.2L88.2 406.0L86.4 405.0L84.7 404.8L83.2 405.0L82.7 406.5L82.4 408.1L81.4 408.9L80.2 407.9L80.0 406.0L80.7 404.5L79.7 403.0L78.2 402.0L77.7 400.0L78.7 398.5L79.0 396.0L79.2 393.9ZM91.3 408.1L92.8 407.9L94.3 408.6L95.1 410.6L94.8 412.6L93.8 414.1L92.5 413.6L92.1 411.6L91.1 410.1ZM83.4 409.1L84.7 409.6L86.2 411.1L87.7 412.6L89.3 413.6L90.8 414.1L91.5 415.6L90.3 416.3L88.7 415.9L87.2 417.1L85.7 416.9L85.2 415.1L84.2 413.6L83.4 411.6ZM84.2 422.7L84.7 421.0L86.4 420.2L88.2 419.2L89.8 419.7L91.3 418.1L92.8 416.9L94.8 416.3L96.5 417.1L97.8 419.2L98.1 421.7L97.3 424.2L95.8 426.0L93.8 426.7L91.8 426.0L90.3 425.2L89.3 423.7L89.8 421.7L88.2 420.7L86.4 421.4L85.2 423.0ZM91.8 323.2L92.6 327.4L92.1 330.9L91.9 333.5L93.1 334.5L95.7 335.5L96.7 337.0L96.4 338.5L97.7 340.0L97.2 342.5L97.7 344.6L99.7 345.1L102.2 344.6L104.4 343.2L105.7 341.0L106.2 338.5L105.4 336.0L104.2 334.0L102.7 332.0L101.7 329.9L100.7 327.4L100.7 323.2ZM82.0 323.2L82.0 327.4L81.5 331.4L83.0 330.9L85.6 329.4L87.1 327.4L87.1 323.2ZM138.3 323.2L138.5 327.4L137.5 330.9L136.0 333.0L134.5 334.5L132.5 335.5L130.5 336.0L128.9 336.0L128.4 337.5L126.9 338.5L125.4 340.0L124.9 341.2L122.4 341.5L119.4 341.8L116.3 342.0L114.3 343.0L112.8 344.1L111.3 345.1L110.5 346.1L111.3 346.9L112.8 346.6L114.3 345.6L116.3 345.1L118.3 344.9L120.9 344.9L122.9 345.3L123.4 347.1L124.4 348.3L125.4 347.6L126.4 346.1L127.4 344.6L128.9 343.9L130.5 344.6L132.0 344.1L133.3 343.0L134.0 344.6L135.0 343.2L136.5 344.1L138.0 342.5L139.0 341.5L140.0 340.0L140.5 338.0L141.0 336.0L142.6 334.5L143.6 332.0L144.1 329.9L143.6 327.4L143.7 323.2ZM114.8 348.6L115.8 347.1L117.8 346.6L119.9 346.1L121.9 347.1L120.9 348.3L118.9 348.9L116.8 350.1L115.3 350.1ZM106.2 348.6L108.3 347.9L110.3 347.6L112.3 348.6L113.3 350.6L112.8 352.9L111.8 354.6L110.1 355.4L108.3 354.6L108.3 352.6L107.8 350.6L106.4 349.9ZM101.3 369.7L102.4 367.9L103.0 368.3L101.9 370.0Z"/>
</g>
<path class="m" stroke="#4d52a6" d="M84.6 352.3H89.4M87.0 349.9V354.7M85.3 350.6L88.7 354.0M85.3 354.0L88.7 350.6"/>
<path class="m" stroke="#4d52a6" d="M80.2 366.3H85.0M82.6 363.9V368.7M80.8 364.6L84.3 368.0M80.8 368.0L84.3 364.6"/>
<path class="m" stroke="#4d52a6" d="M101.6 367.7H106.4M104.0 365.3V370.1M102.3 366.0L105.7 369.4M102.3 369.4L105.7 366.0"/>
<path class="m" stroke="#4d52a6" d="M40.2 384.9H45.0M42.6 382.5V387.3M40.8 383.1L44.3 386.6M40.8 386.6L44.3 383.1"/>
<path class="m" stroke="#4d52a6" d="M52.5 384.9H57.3M54.9 382.5V387.3M53.1 383.1L56.6 386.6M53.1 386.6L56.6 383.1"/>
<path class="m" stroke="#4d52a6" d="M80.3 386.6H85.1M82.7 384.2V389.0M81.0 384.8L84.4 388.3M81.0 388.3L84.4 384.8"/>
<path class="m" stroke="#4d52a6" d="M48.5 394.4H53.3M50.9 392.0V396.8M49.1 392.7L52.6 396.2M49.1 396.2L52.6 392.7"/>
<path class="m" stroke="#4d52a6" d="M53.0 393.4H57.8M55.4 391.0V395.8M53.7 391.7L57.2 395.2M53.7 395.2L57.2 391.7"/>
<path class="m" stroke="#4d52a6" d="M55.3 398.7H60.1M57.7 396.3V401.1M56.0 397.0L59.4 400.4M56.0 400.4L59.4 397.0"/>
<path class="m" stroke="#4d52a6" d="M66.3 398.0H71.1M68.7 395.6V400.4M67.0 396.3L70.4 399.7M67.0 399.7L70.4 396.3"/>
<path class="m" stroke="#4d52a6" d="M101.0 391.3H105.8M103.4 388.9V393.7M101.7 389.6L105.2 393.0M101.7 393.0L105.2 389.6"/>
<path class="m" stroke="#4d52a6" d="M104.6 403.0H109.4M107.0 400.6V405.4M105.3 401.3L108.7 404.7M105.3 404.7L108.7 401.3"/>
<path class="m" stroke="#4d52a6" d="M101.0 405.4H105.8M103.4 403.0V407.8M101.7 403.7L105.2 407.2M101.7 407.2L105.2 403.7"/>
<path class="m" stroke="#4d52a6" d="M105.9 408.0H110.7M108.3 405.6V410.4M106.6 406.3L110.0 409.7M106.6 409.7L110.0 406.3"/>
<path class="m" stroke="#4d52a6" d="M65.2 410.1H70.0M67.6 407.7V412.5M65.8 408.4L69.3 411.9M65.8 411.9L69.3 408.4"/>
<path class="m" stroke="#4d52a6" d="M76.0 411.6H80.8M78.4 409.2V414.0M76.7 409.8L80.2 413.3M76.7 413.3L80.2 409.8"/>
<path class="m" stroke="#4d52a6" d="M117.5 404.1H122.3M119.9 401.7V406.5M118.1 402.4L121.6 405.9M118.1 405.9L121.6 402.4"/>
<path class="m" stroke="#4d52a6" d="M127.3 379.1H132.1M129.7 376.7V381.5M128.0 377.4L131.4 380.9M128.0 380.9L131.4 377.4"/>
<path class="m" stroke="#4d52a6" d="M124.2 383.0H129.0M126.6 380.6V385.4M124.8 381.3L128.3 384.7M124.8 384.7L128.3 381.3"/>
<path class="m" stroke="#4d52a6" d="M124.9 388.0H129.7M127.3 385.6V390.4M125.6 386.3L129.0 389.7M125.6 389.7L129.0 386.3"/>
<path class="m" stroke="#4d52a6" d="M131.0 384.4H135.8M133.4 382.0V386.8M131.7 382.7L135.2 386.2M131.7 386.2L135.2 382.7"/>
<path class="m" stroke="#4d52a6" d="M134.2 366.3H139.0M136.6 363.9V368.7M134.8 364.6L138.3 368.0M134.8 368.0L138.3 364.6"/>
<path class="m" stroke="#ec3c3c" d="M57.0 391.6H61.8M59.4 389.2V394.0M57.7 389.8L61.2 393.3M57.7 393.3L61.2 389.8"/>
<path class="m" stroke="#ec3c3c" d="M72.5 394.9H77.3M74.9 392.5V397.3M73.1 393.1L76.6 396.6M73.1 396.6L76.6 393.1"/>
<path class="m" stroke="#ec3c3c" d="M63.5 397.3H68.3M65.9 394.9V399.7M64.1 395.6L67.6 399.0M64.1 399.0L67.6 395.6"/>
<path class="m" stroke="#ec3c3c" d="M95.6 398.7H100.4M98.0 396.3V401.1M96.3 397.0L99.7 400.4M96.3 400.4L99.7 397.0"/>
<path class="m" stroke="#ec3c3c" d="M99.9 395.9H104.7M102.3 393.5V398.3M100.6 394.1L104.0 397.6M100.6 397.6L104.0 394.1"/>
<path class="m" stroke="#ec3c3c" d="M118.7 411.1H123.5M121.1 408.7V413.5M119.4 409.4L122.9 412.9M119.4 412.9L122.9 409.4"/>
<path class="m" stroke="#ec3c3c" d="M133.5 365.1H138.3M135.9 362.7V367.5M134.1 363.4L137.6 366.9M134.1 366.9L137.6 363.4"/>
<path class="m" stroke="#ec3c3c" d="M133.0 383.0H137.8M135.4 380.6V385.4M133.7 381.3L137.2 384.7M133.7 384.7L137.2 381.3"/>
<path class="m" stroke="#ec3c3c" d="M110.6 383.7H115.4M113.0 381.3V386.1M111.3 382.0L114.7 385.4M111.3 385.4L114.7 382.0"/>
<path class="m" stroke="#ec3c3c" d="M106.6 390.4H111.4M109.0 388.0V392.8M107.3 388.7L110.7 392.2M107.3 392.2L110.7 388.7"/>
<path class="m" stroke="#ffe430" d="M133.9 354.9H138.7M136.3 352.5V357.3M134.6 353.1L138.0 356.6M134.6 356.6L138.0 353.1"/>
<path class="m" stroke="#ffe430" d="M117.3 363.7H122.1M119.7 361.3V366.1M118.0 362.0L121.4 365.4M118.0 365.4L121.4 362.0"/>
<path class="m" stroke="#ffe430" d="M112.7 367.3H117.5M115.1 364.9V369.7M113.4 365.6L116.9 369.0M113.4 369.0L116.9 365.6"/>
<path class="m" stroke="#ffe430" d="M101.3 371.1H106.1M103.7 368.7V373.5M102.0 369.4L105.4 372.9M102.0 372.9L105.4 369.4"/>
<path class="m" stroke="#ffe430" d="M109.6 374.1H114.4M112.0 371.7V376.5M110.3 372.4L113.7 375.9M110.3 375.9L113.7 372.4"/>
<path class="m" stroke="#ffe430" d="M95.6 375.1H100.4M98.0 372.7V377.5M96.3 373.4L99.7 376.9M96.3 376.9L99.7 373.4"/>
<path class="m" stroke="#ffe430" d="M120.6 372.6H125.4M123.0 370.2V375.0M121.3 370.8L124.7 374.3M121.3 374.3L124.7 370.8"/>
<path class="m" stroke="#ffe430" d="M90.6 383.4H95.4M93.0 381.0V385.8M91.3 381.7L94.7 385.2M91.3 385.2L94.7 381.7"/>
<path class="m" stroke="#ffe430" d="M57.0 386.9H61.8M59.4 384.5V389.3M57.7 385.1L61.2 388.6M57.7 388.6L61.2 385.1"/>
<path class="m" stroke="#ffe430" d="M64.9 385.1H69.7M67.3 382.7V387.5M65.6 383.4L69.0 386.9M65.6 386.9L69.0 383.4"/>
<path class="m" stroke="#ffe430" d="M67.3 389.1H72.1M69.7 386.7V391.5M68.0 387.4L71.4 390.9M68.0 390.9L71.4 387.4"/>
<path class="m" stroke="#ffe430" d="M65.6 394.4H70.4M68.0 392.0V396.8M66.3 392.7L69.7 396.2M66.3 396.2L69.7 392.7"/>
<path class="m" stroke="#ffe430" d="M77.0 388.7H81.8M79.4 386.3V391.1M77.7 387.0L81.2 390.4M77.7 390.4L81.2 387.0"/>
<path class="m" stroke="#ffe430" d="M72.5 398.0H77.3M74.9 395.6V400.4M73.1 396.3L76.6 399.7M73.1 399.7L76.6 396.3"/>
<path class="m" stroke="#ffe430" d="M64.9 402.0H69.7M67.3 399.6V404.4M65.6 400.3L69.0 403.7M65.6 403.7L69.0 400.3"/>
<path class="m" stroke="#ffe430" d="M68.2 401.6H73.0M70.6 399.2V404.0M68.8 399.8L72.3 403.3M68.8 403.3L72.3 399.8"/>
<path class="m" stroke="#ffe430" d="M67.7 404.4H72.5M70.1 402.0V406.8M68.4 402.7L71.9 406.2M68.4 406.2L71.9 402.7"/>
<path class="m" stroke="#ffe430" d="M61.7 408.0H66.5M64.1 405.6V410.4M62.4 406.3L65.9 409.7M62.4 409.7L65.9 406.3"/>
<path class="m" stroke="#ffe430" d="M91.3 394.4H96.1M93.7 392.0V396.8M92.0 392.7L95.4 396.2M92.0 396.2L95.4 392.7"/>
<path class="m" stroke="#ffe430" d="M88.5 397.3H93.3M90.9 394.9V399.7M89.1 395.6L92.6 399.0M89.1 399.0L92.6 395.6"/>
<path class="m" stroke="#ffe430" d="M87.0 402.0H91.8M89.4 399.6V404.4M87.7 400.3L91.2 403.7M87.7 403.7L91.2 400.3"/>
<path class="m" stroke="#ffe430" d="M94.9 406.6H99.7M97.3 404.2V409.0M95.6 404.8L99.0 408.3M95.6 408.3L99.0 404.8"/>
<path class="m" stroke="#ffe430" d="M105.6 393.4H110.4M108.0 391.0V395.8M106.3 391.7L109.7 395.2M106.3 395.2L109.7 391.7"/>
<path class="m" stroke="#ffe430" d="M99.9 397.3H104.7M102.3 394.9V399.7M100.6 395.6L104.0 399.0M100.6 399.0L104.0 395.6"/>
<path class="m" stroke="#ffe430" d="M107.3 407.3H112.1M109.7 404.9V409.7M108.0 405.6L111.4 409.0M108.0 409.0L111.4 405.6"/>
<path class="m" stroke="#ffe430" d="M127.0 382.3H131.8M129.4 379.9V384.7M127.7 380.6L131.2 384.0M127.7 384.0L131.2 380.6"/>
<path class="m" stroke="#ffe430" d="M133.5 394.9H138.3M135.9 392.5V397.3M134.1 393.1L137.6 396.6M134.1 396.6L137.6 393.1"/>
<path class="m" stroke="#ffe430" d="M133.5 398.7H138.3M135.9 396.3V401.1M134.1 397.0L137.6 400.4M134.1 400.4L137.6 397.0"/>
<path class="m" stroke="#ffe430" d="M105.6 385.4H110.4M108.0 383.0V387.8M106.3 383.7L109.7 387.2M106.3 387.2L109.7 383.7"/>
<path class="m" stroke="#ffe430" d="M81.0 391.6H85.8M83.4 389.2V394.0M81.7 389.8L85.2 393.3M81.7 393.3L85.2 389.8"/>
<path class="m" stroke="#ffe430" d="M97.0 394.4H101.8M99.4 392.0V396.8M97.7 392.7L101.2 396.2M97.7 396.2L101.2 392.7"/>
<path class="m" stroke="#ffe430" d="M112.7 383.0H117.5M115.1 380.6V385.4M113.4 381.3L116.9 384.7M113.4 384.7L116.9 381.3"/>
<path class="m" stroke="#4d52a6" d="M173.2 367.3H178.0M175.6 364.9V369.7M173.8 365.6L177.3 369.0M173.8 369.0L177.3 365.6"/>
<path class="m" stroke="#4d52a6" d="M174.6 373.4H179.4M177.0 371.0V375.8M175.3 371.7L178.7 375.2M175.3 375.2L178.7 371.7"/>
<path class="m" stroke="#4d52a6" d="M186.6 376.9H191.4M189.0 374.5V379.3M187.3 375.1L190.7 378.6M187.3 378.6L190.7 375.1"/>
<path class="m" stroke="#4d52a6" d="M198.0 364.0H202.8M200.4 361.6V366.4M198.7 362.3L202.2 365.7M198.7 365.7L202.2 362.3"/>
<path class="m" stroke="#4d52a6" d="M203.2 373.0H208.0M205.6 370.6V375.4M203.8 371.3L207.3 374.7M203.8 374.7L207.3 371.3"/>
<path class="m" stroke="#4d52a6" d="M158.0 384.9H162.8M160.4 382.5V387.3M158.7 383.1L162.2 386.6M158.7 386.6L162.2 383.1"/>
<path class="m" stroke="#4d52a6" d="M196.7 393.3H201.5M199.1 390.9V395.7M197.4 391.6L200.9 395.0M197.4 395.0L200.9 391.6"/>
<path class="m" stroke="#4d52a6" d="M139.2 393.3H144.0M141.6 390.9V395.7M139.8 391.6L143.3 395.0M139.8 395.0L143.3 391.6"/>
<path class="m" stroke="#4d52a6" d="M141.3 399.7H146.1M143.7 397.3V402.1M142.0 398.0L145.4 401.4M142.0 401.4L145.4 398.0"/>
<path class="m" stroke="#4d52a6" d="M154.2 404.0H159.0M156.6 401.6V406.4M154.8 402.3L158.3 405.7M154.8 405.7L158.3 402.3"/>
<path class="m" stroke="#4d52a6" d="M151.0 410.6H155.8M153.4 408.2V413.0M151.7 408.8L155.2 412.3M151.7 412.3L155.2 408.8"/>
<path class="m" stroke="#ec3c3c" d="M198.5 364.9H203.3M200.9 362.5V367.3M199.1 363.1L202.6 366.6M199.1 366.6L202.6 363.1"/>
<path class="m" stroke="#ec3c3c" d="M145.3 394.4H150.1M147.7 392.0V396.8M146.0 392.7L149.4 396.2M146.0 396.2L149.4 392.7"/>
<path class="m" stroke="#ec3c3c" d="M137.7 398.3H142.5M140.1 395.9V400.7M138.4 396.6L141.9 400.0M138.4 400.0L141.9 396.6"/>
<path class="m" stroke="#ec3c3c" d="M159.2 404.4H164.0M161.6 402.0V406.8M159.8 402.7L163.3 406.2M159.8 406.2L163.3 402.7"/>
<path class="m" stroke="#ec3c3c" d="M138.2 404.4H143.0M140.6 402.0V406.8M138.8 402.7L142.3 406.2M138.8 406.2L142.3 402.7"/>
<path class="m" stroke="#ec3c3c" d="M138.7 406.9H143.5M141.1 404.5V409.3M139.4 405.1L142.9 408.6M139.4 408.6L142.9 405.1"/>
<path class="m" stroke="#ffe430" d="M153.2 349.7H158.0M155.6 347.3V352.1M153.8 348.0L157.3 351.4M153.8 351.4L157.3 348.0"/>
<path class="m" stroke="#ffe430" d="M138.2 366.6H143.0M140.6 364.2V369.0M138.8 364.8L142.3 368.3M138.8 368.3L142.3 364.8"/>
<path class="m" stroke="#ffe430" d="M194.9 371.6H199.7M197.3 369.2V374.0M195.6 369.8L199.0 373.3M195.6 373.3L199.0 369.8"/>
<path class="m" stroke="#ffe430" d="M209.6 370.9H214.4M212.0 368.5V373.3M210.3 369.1L213.7 372.6M210.3 372.6L213.7 369.1"/>
<path class="m" stroke="#ffe430" d="M214.9 375.1H219.7M217.3 372.7V377.5M215.6 373.4L219.0 376.9M215.6 376.9L219.0 373.4"/>
<path class="m" stroke="#ffe430" d="M207.0 385.4H211.8M209.4 383.0V387.8M207.7 383.7L211.2 387.2M207.7 387.2L211.2 383.7"/>
<path class="m" stroke="#ffe430" d="M171.3 382.6H176.1M173.7 380.2V385.0M172.0 380.8L175.4 384.3M172.0 384.3L175.4 380.8"/>
<path class="m" stroke="#ffe430" d="M179.5 381.1H184.3M181.9 378.7V383.5M180.1 379.4L183.6 382.9M180.1 382.9L183.6 379.4"/>
<path class="m" stroke="#ffe430" d="M137.0 384.9H141.8M139.4 382.5V387.3M137.7 383.1L141.2 386.6M137.7 386.6L141.2 383.1"/>
<path class="m" stroke="#ffe430" d="M141.6 385.1H146.4M144.0 382.7V387.5M142.3 383.4L145.7 386.9M142.3 386.9L145.7 383.4"/>
<path class="m" stroke="#ffe430" d="M159.6 394.7H164.4M162.0 392.3V397.1M160.3 393.0L163.7 396.4M160.3 396.4L163.7 393.0"/>
<path class="m" stroke="#ffe430" d="M144.2 410.4H149.0M146.6 408.0V412.8M144.8 408.7L148.3 412.2M144.8 412.2L148.3 408.7"/>
<path class="m" stroke="#4d52a6" d="M107.6 418.9H112.4M110.0 416.5V421.3M108.3 417.2L111.7 420.6M108.3 420.6L111.7 417.2"/>
<path class="m" stroke="#4d52a6" d="M220.7 417.8H225.5M223.1 415.4V420.2M221.4 416.1L224.8 419.5M221.4 419.5L224.8 416.1"/>
<path class="m" stroke="#ec3c3c" d="M164.8 427.4H169.6M167.2 425.0V429.8M165.5 425.7L168.9 429.1M165.5 429.1L168.9 425.7"/>
<path class="m" stroke="#ffe430" d="M66.5 414.4H71.3M68.9 412.0V416.8M67.2 412.7L70.6 416.1M67.2 416.1L70.6 412.7"/>
<path class="m" stroke="#ffe430" d="M242.9 377.3H247.7M245.3 374.9V379.7M243.6 375.6L247.0 379.0M243.6 379.0L247.0 375.6"/>
<ellipse class="c" cx="121.7" cy="396.1" rx="4.8" ry="3.8" fill="#ea3030"/>
<ellipse class="c" cx="120.6" cy="391.3" rx="4.5" ry="4.3" fill="#414a9a"/>
<ellipse class="c" cx="114.6" cy="388.9" rx="4.2" ry="3.4" fill="#ffea48"/>
<rect class="fr2" x="18.5" y="328.2" width="298.2" height="113.4"/>
<line class="tk" x1="78.1" y1="441.3" x2="78.1" y2="438.40000000000003"/>
<line class="tk" x1="137.8" y1="441.3" x2="137.8" y2="438.40000000000003"/>
<line class="tk" x1="197.4" y1="441.3" x2="197.4" y2="438.40000000000003"/>
<line class="tk" x1="257.1" y1="441.3" x2="257.1" y2="438.40000000000003"/>
<line class="tk" x1="18.8" y1="358.6" x2="21.8" y2="358.6"/>
<line class="tk" x1="18.8" y1="387.2" x2="21.8" y2="387.2"/>
<line class="tk" x1="18.8" y1="414.7" x2="21.8" y2="414.7"/>
<text class="t" transform="translate(11.20 456.30) scale(0.9 1)">100</text>
<text class="t" transform="translate(70.60 456.30) scale(0.9 1)">120</text>
<text class="t" transform="translate(130.60 456.30) scale(0.9 1)">140</text>
<text class="t" transform="translate(188.95 456.30) scale(0.9 1)">160</text>
<text class="e" transform="translate(208.72 456.30) scale(0.9 1)">°E</text>
<text class="t" transform="translate(248.15 456.30) scale(0.9 1)">180°</text>
<text class="t" transform="translate(300.25 456.30) scale(0.9 1)">160</text>
<text class="e" transform="translate(317.23 456.30) scale(0.9 1)">°W</text>
<text class="t" transform="translate(2.17 330.30) scale(0.9 1)">40</text>
<text class="t" transform="translate(2.01 361.60) scale(0.9 1)">30</text>
<text class="t" transform="translate(2.01 389.90) scale(0.9 1)">20</text>
<text class="t" transform="translate(1.79 417.70) scale(0.9 1)">10</text>
<text class="t" transform="translate(8.60 444.40) scale(0.9 1)">0</text>
<text class="u" transform="translate(0.18 321.20) scale(0.92 1)">°N</text>
<text class="g" x="20.27" y="324.50">(<tspan font-weight="bold">c</tspan>)</text>
<text class="cj" x="129.50" y="323.60">强热带风暴</text>
<text class="t" transform="translate(187.24 323.60) scale(0.9 1)">STS</text>
</g>
<g id="panel-f">
<rect class="fr" x="382.6" y="328.2" width="297.8" height="113.5"/>
<clipPath id="cpf"><rect x="382.1" y="327.7" width="298.8" height="114.5"/></clipPath>
<g clip-path="url(#cpf)">
<path class="land" d="M379.6 323.2L440.4 323.2L440.2 327.7L438.2 329.4L435.2 331.4L436.7 332.4L438.7 335.0L440.7 337.5L442.8 336.0L444.8 335.5L446.8 336.5L449.3 337.0L446.8 338.0L443.8 339.5L441.8 341.5L439.7 343.0L440.2 345.1L442.8 345.6L444.3 348.6L446.8 352.1L447.8 354.1L446.8 356.2L443.8 357.7L448.3 358.2L448.8 359.2L446.8 362.2L444.8 365.2L442.8 366.9L441.2 369.0L439.7 371.5L438.2 373.5L436.2 375.5L433.7 377.0L431.1 378.2L428.6 379.0L425.6 379.8L422.5 380.9L419.5 381.6L417.0 382.1L414.5 382.9L412.6 383.6L412.2 384.6L413.0 385.9L412.2 386.3L411.4 385.1L410.9 383.6L409.9 382.6L407.4 382.3L405.4 382.9L403.3 383.9L401.3 385.3L399.8 387.1L399.1 389.3L399.8 391.1L401.3 392.7L403.3 394.2L405.4 396.2L407.4 398.2L408.9 400.7L409.6 402.9L409.9 406.5L409.6 410.0L407.9 412.0L405.9 413.5L403.3 415.0L400.8 416.1L398.8 417.6L397.1 418.3L396.3 416.6L395.7 414.5L394.0 413.0L392.2 411.5L390.7 409.5L388.7 407.5L386.1 406.5L384.1 405.5L381.6 405.0ZM381.6 418.6L382.6 419.1L383.6 420.6L384.6 422.1L386.6 423.5L389.4 425.6L391.8 427.2L392.6 429.3L392.7 432.6L393.5 434.9L394.9 436.4L394.7 438.1L393.0 438.3L391.5 437.7L390.4 436.6L389.0 435.1L387.2 433.4L385.5 431.7L384.4 429.4L383.8 427.7L382.7 427.0L381.6 426.7ZM381.6 434.2L382.4 434.5L383.8 435.5L385.5 436.2L387.2 437.2L389.5 438.4L391.2 439.2L391.8 440.8L393.0 441.6L393.2 443.2L381.6 443.2ZM408.6 389.3L409.4 388.1L410.9 387.1L412.9 386.6L414.7 386.9L415.3 388.1L414.5 389.9L412.9 391.3L410.9 392.2L409.2 391.6L408.4 390.6ZM445.3 372.2L446.8 372.0L447.8 373.0L448.0 374.8L447.3 377.0L446.3 379.0L445.3 381.1L444.6 381.6L443.8 380.0L443.3 378.0L443.3 376.0L443.8 374.0ZM408.9 442.3L408.6 439.8L409.6 437.7L410.9 436.7L413.4 436.4L416.5 436.0L417.0 434.4L419.5 434.0L421.5 433.2L423.6 431.7L425.1 429.7L427.1 428.7L428.6 427.2L430.1 425.1L431.6 424.1L433.7 423.9L435.2 424.6L436.2 426.1L438.2 427.2L439.9 427.7L439.5 428.7L437.7 429.4L436.7 430.7L435.7 432.7L436.2 434.7L437.2 436.7L436.7 438.2L438.2 439.3L437.5 440.3L435.7 442.3ZM433.5 419.6L435.7 417.9L438.2 415.9L440.2 413.5L441.0 412.5L441.4 413.0L440.6 414.5L438.8 416.7L436.3 418.7L433.9 420.2ZM441.5 442.4L442.2 440.0L445.1 438.6L449.4 438.6L453.7 439.3L456.6 437.9L458.0 437.6L457.3 439.3L455.1 441.4L453.7 442.4ZM463.7 442.4L464.0 439.3L465.2 436.4L466.6 438.6L468.0 438.1L467.3 440.0L467.7 442.4ZM443.9 391.9L445.9 391.4L448.0 392.1L449.5 391.7L449.7 392.9L448.5 394.4L448.0 396.5L447.7 399.0L448.3 401.0L449.0 403.0L450.5 403.8L452.5 404.0L454.0 405.0L455.0 406.5L454.0 407.2L452.5 406.0L450.7 405.0L449.0 404.8L447.5 405.0L446.9 406.5L446.6 408.1L445.6 408.9L444.4 407.9L444.2 406.0L444.9 404.5L443.9 403.0L442.4 402.0L441.9 400.0L442.9 398.5L443.2 396.0L443.4 393.9ZM455.5 408.1L457.1 407.9L458.6 408.6L459.4 410.6L459.1 412.6L458.1 414.1L456.8 413.6L456.3 411.6L455.3 410.1ZM447.7 409.1L449.0 409.6L450.5 411.1L452.0 412.6L453.5 413.6L455.0 414.1L455.7 415.6L454.5 416.3L453.0 415.9L451.5 417.1L450.0 416.9L449.5 415.1L448.5 413.6L447.7 411.6ZM448.5 422.7L449.0 421.0L450.7 420.2L452.5 419.2L454.0 419.7L455.5 418.1L457.1 416.9L459.1 416.3L460.8 417.1L462.1 419.2L462.4 421.7L461.6 424.2L460.1 426.0L458.1 426.7L456.0 426.0L454.5 425.2L453.5 423.7L454.0 421.7L452.5 420.7L450.7 421.4L449.5 423.0ZM456.1 323.2L456.9 327.4L456.4 330.9L456.2 333.5L457.4 334.5L459.9 335.5L460.9 337.0L460.6 338.5L462.0 340.0L461.4 342.5L462.0 344.6L464.0 345.1L466.5 344.6L468.7 343.2L470.0 341.0L470.5 338.5L469.7 336.0L468.5 334.0L467.0 332.0L466.0 329.9L465.0 327.4L465.0 323.2ZM446.2 323.2L446.3 327.4L445.8 331.4L447.3 330.9L449.8 329.4L451.3 327.4L451.4 323.2ZM502.7 323.2L502.9 327.4L501.9 330.9L500.4 333.0L498.9 334.5L496.8 335.5L494.8 336.0L493.3 336.0L492.8 337.5L491.3 338.5L489.8 340.0L489.3 341.2L486.7 341.5L483.7 341.8L480.7 342.0L478.6 343.0L477.1 344.1L475.6 345.1L474.8 346.1L475.6 346.9L477.1 346.6L478.6 345.6L480.7 345.1L482.7 344.9L485.2 344.9L487.2 345.3L487.7 347.1L488.7 348.3L489.8 347.6L490.8 346.1L491.8 344.6L493.3 343.9L494.8 344.6L496.3 344.1L497.6 343.0L498.4 344.6L499.4 343.2L500.9 344.1L502.4 342.5L503.4 341.5L504.4 340.0L504.9 338.0L505.4 336.0L506.9 334.5L508.0 332.0L508.5 329.9L508.0 327.4L508.1 323.2ZM479.1 348.6L480.2 347.1L482.2 346.6L484.2 346.1L486.2 347.1L485.2 348.3L483.2 348.9L481.2 350.1L479.6 350.1ZM470.5 348.6L472.6 347.9L474.6 347.6L476.6 348.6L477.6 350.6L477.1 352.9L476.1 354.6L474.4 355.4L472.6 354.6L472.6 352.6L472.1 350.6L470.8 349.9ZM465.6 369.7L466.7 367.9L467.3 368.3L466.2 370.0Z"/>
</g>
<path class="m" stroke="#4d52a6" d="M499.5 378.0H504.3M501.9 375.6V380.4M500.1 376.3L503.6 379.7M500.1 379.7L503.6 376.3"/>
<path class="m" stroke="#4d52a6" d="M509.0 379.4H513.8M511.4 377.0V381.8M509.7 377.7L513.2 381.2M509.7 381.2L513.2 377.7"/>
<path class="m" stroke="#4d52a6" d="M476.9 381.6H481.7M479.3 379.2V384.0M477.6 379.8L481.0 383.3M477.6 383.3L481.0 379.8"/>
<path class="m" stroke="#4d52a6" d="M488.7 386.3H493.5M491.1 383.9V388.7M489.4 384.6L492.9 388.0M489.4 388.0L492.9 384.6"/>
<path class="m" stroke="#4d52a6" d="M444.5 394.4H449.3M446.9 392.0V396.8M445.1 392.7L448.6 396.2M445.1 396.2L448.6 392.7"/>
<path class="m" stroke="#4d52a6" d="M475.5 397.3H480.3M477.9 394.9V399.7M476.1 395.6L479.6 399.0M476.1 399.0L479.6 395.6"/>
<path class="m" stroke="#4d52a6" d="M476.9 399.7H481.7M479.3 397.3V402.1M477.6 398.0L481.0 401.4M477.6 401.4L481.0 398.0"/>
<path class="m" stroke="#4d52a6" d="M485.9 394.7H490.7M488.3 392.3V397.1M486.6 393.0L490.0 396.4M486.6 396.4L490.0 393.0"/>
<path class="m" stroke="#4d52a6" d="M499.5 393.7H504.3M501.9 391.3V396.1M500.1 392.0L503.6 395.4M500.1 395.4L503.6 392.0"/>
<path class="m" stroke="#4d52a6" d="M462.2 404.0H467.0M464.6 401.6V406.4M462.8 402.3L466.3 405.7M462.8 405.7L466.3 402.3"/>
<path class="m" stroke="#4d52a6" d="M493.7 402.0H498.5M496.1 399.6V404.4M494.4 400.3L497.9 403.7M494.4 403.7L497.9 400.3"/>
<path class="m" stroke="#4d52a6" d="M489.0 405.9H493.8M491.4 403.5V408.3M489.7 404.1L493.2 407.6M489.7 407.6L493.2 404.1"/>
<path class="m" stroke="#4d52a6" d="M503.3 405.9H508.1M505.7 403.5V408.3M504.0 404.1L507.4 407.6M504.0 407.6L507.4 404.1"/>
<path class="m" stroke="#4d52a6" d="M485.7 410.6H490.5M488.1 408.2V413.0M486.4 408.8L489.9 412.3M486.4 412.3L489.9 408.8"/>
<path class="m" stroke="#4d52a6" d="M470.9 415.9H475.7M473.3 413.5V418.3M471.6 414.1L475.0 417.6M471.6 417.6L475.0 414.1"/>
<path class="m" stroke="#4d52a6" d="M493.3 415.9H498.1M495.7 413.5V418.3M494.0 414.1L497.4 417.6M494.0 417.6L497.4 414.1"/>
<path class="m" stroke="#4d52a6" d="M506.9 426.1H511.7M509.3 423.7V428.5M507.6 424.4L511.0 427.9M507.6 427.9L511.0 424.4"/>
<path class="m" stroke="#4d52a6" d="M510.2 413.7H515.0M512.6 411.3V416.1M510.8 412.0L514.3 415.4M510.8 415.4L514.3 412.0"/>
<path class="m" stroke="#4d52a6" d="M511.9 418.7H516.7M514.3 416.3V421.1M512.6 417.0L516.0 420.4M512.6 420.4L516.0 417.0"/>
<path class="m" stroke="#4d52a6" d="M519.5 417.7H524.3M521.9 415.3V420.1M520.1 416.0L523.6 419.4M520.1 419.4L523.6 416.0"/>
<path class="m" stroke="#4d52a6" d="M527.2 389.1H532.0M529.6 386.7V391.5M527.8 387.4L531.3 390.9M527.8 390.9L531.3 387.4"/>
<path class="m" stroke="#4d52a6" d="M535.5 389.4H540.3M537.9 387.0V391.8M536.1 387.7L539.6 391.2M536.1 391.2L539.6 387.7"/>
<path class="m" stroke="#4d52a6" d="M511.9 408.7H516.7M514.3 406.3V411.1M512.6 407.0L516.0 410.4M512.6 410.4L516.0 407.0"/>
<path class="m" stroke="#4d52a6" d="M531.2 396.3H536.0M533.6 393.9V398.7M531.8 394.6L535.3 398.0M531.8 398.0L535.3 394.6"/>
<path class="m" stroke="#4d52a6" d="M511.2 393.4H516.0M513.6 391.0V395.8M511.8 391.7L515.3 395.2M511.8 395.2L515.3 391.7"/>
<path class="m" stroke="#ec3c3c" d="M465.2 385.4H470.0M467.6 383.0V387.8M465.8 383.7L469.3 387.2M465.8 387.2L469.3 383.7"/>
<path class="m" stroke="#ec3c3c" d="M492.6 387.3H497.4M495.0 384.9V389.7M493.3 385.6L496.7 389.0M493.3 389.0L496.7 385.6"/>
<path class="m" stroke="#ec3c3c" d="M504.7 387.3H509.5M507.1 384.9V389.7M505.4 385.6L508.9 389.0M505.4 389.0L508.9 385.6"/>
<path class="m" stroke="#ec3c3c" d="M501.6 391.6H506.4M504.0 389.2V394.0M502.3 389.8L505.7 393.3M502.3 393.3L505.7 389.8"/>
<path class="m" stroke="#ec3c3c" d="M493.6 397.7H498.4M496.0 395.3V400.1M494.3 396.0L497.7 399.4M494.3 399.4L497.7 396.0"/>
<path class="m" stroke="#ec3c3c" d="M497.6 398.7H502.4M500.0 396.3V401.1M498.3 397.0L501.7 400.4M498.3 400.4L501.7 397.0"/>
<path class="m" stroke="#ec3c3c" d="M455.9 406.3H460.7M458.3 403.9V408.7M456.6 404.6L460.0 408.0M456.6 408.0L460.0 404.6"/>
<path class="m" stroke="#ec3c3c" d="M497.3 405.9H502.1M499.7 403.5V408.3M498.0 404.1L501.4 407.6M498.0 407.6L501.4 404.1"/>
<path class="m" stroke="#ec3c3c" d="M476.6 410.9H481.4M479.0 408.5V413.3M477.3 409.1L480.7 412.6M477.3 412.6L480.7 409.1"/>
<path class="m" stroke="#ec3c3c" d="M504.3 415.9H509.1M506.7 413.5V418.3M505.0 414.1L508.4 417.6M505.0 417.6L508.4 414.1"/>
<path class="m" stroke="#ec3c3c" d="M519.0 397.7H523.8M521.4 395.3V400.1M519.7 396.0L523.2 399.4M519.7 399.4L523.2 396.0"/>
<path class="m" stroke="#ec3c3c" d="M526.2 395.4H531.0M528.6 393.0V397.8M526.8 393.7L530.3 397.2M526.8 397.2L530.3 393.7"/>
<path class="m" stroke="#ec3c3c" d="M521.6 414.9H526.4M524.0 412.5V417.3M522.3 413.1L525.7 416.6M522.3 416.6L525.7 413.1"/>
<path class="m" stroke="#ec3c3c" d="M523.0 417.3H527.8M525.4 414.9V419.7M523.7 415.6L527.2 419.0M523.7 419.0L527.2 415.6"/>
<path class="m" stroke="#ec3c3c" d="M512.9 417.3H517.7M515.3 414.9V419.7M513.6 415.6L517.0 419.0M513.6 419.0L517.0 415.6"/>
<path class="m" stroke="#ec3c3c" d="M530.2 410.1H535.0M532.6 407.7V412.5M530.8 408.4L534.3 411.9M530.8 411.9L534.3 408.4"/>
<path class="m" stroke="#ec3c3c" d="M534.0 408.7H538.8M536.4 406.3V411.1M534.7 407.0L538.2 410.4M534.7 410.4L538.2 407.0"/>
<path class="m" stroke="#ec3c3c" d="M533.3 417.3H538.1M535.7 414.9V419.7M534.0 415.6L537.4 419.0M534.0 419.0L537.4 415.6"/>
<path class="m" stroke="#ec3c3c" d="M526.2 426.9H531.0M528.6 424.5V429.3M526.8 425.1L530.3 428.6M526.8 428.6L530.3 425.1"/>
<path class="m" stroke="#ec3c3c" d="M508.3 406.6H513.1M510.7 404.2V409.0M509.0 404.8L512.4 408.3M509.0 408.3L512.4 404.8"/>
<path class="m" stroke="#ec3c3c" d="M516.2 409.4H521.0M518.6 407.0V411.8M516.8 407.7L520.3 411.2M516.8 411.2L520.3 407.7"/>
<path class="m" stroke="#ec3c3c" d="M513.0 421.6H517.8M515.4 419.2V424.0M513.7 419.8L517.2 423.3M513.7 423.3L517.2 419.8"/>
<path class="m" stroke="#ffe430" d="M506.9 371.1H511.7M509.3 368.7V373.5M507.6 369.4L511.0 372.9M507.6 372.9L511.0 369.4"/>
<path class="m" stroke="#ffe430" d="M535.9 377.3H540.7M538.3 374.9V379.7M536.6 375.6L540.0 379.0M536.6 379.0L540.0 375.6"/>
<path class="m" stroke="#ffe430" d="M518.3 382.6H523.1M520.7 380.2V385.0M519.0 380.8L522.4 384.3M519.0 384.3L522.4 380.8"/>
<path class="m" stroke="#ffe430" d="M486.9 385.9H491.7M489.3 383.5V388.3M487.6 384.1L491.0 387.6M487.6 387.6L491.0 384.1"/>
<path class="m" stroke="#ffe430" d="M460.7 390.1H465.5M463.1 387.7V392.5M461.4 388.4L464.9 391.9M461.4 391.9L464.9 388.4"/>
<path class="m" stroke="#ffe430" d="M487.6 391.1H492.4M490.0 388.7V393.5M488.3 389.4L491.7 392.9M488.3 392.9L491.7 389.4"/>
<path class="m" stroke="#ffe430" d="M465.0 394.9H469.8M467.4 392.5V397.3M465.7 393.1L469.2 396.6M465.7 396.6L469.2 393.1"/>
<path class="m" stroke="#ffe430" d="M508.7 391.6H513.5M511.1 389.2V394.0M509.4 389.8L512.9 393.3M509.4 393.3L512.9 389.8"/>
<path class="m" stroke="#ffe430" d="M523.3 389.4H528.1M525.7 387.0V391.8M524.0 387.7L527.4 391.2M524.0 391.2L527.4 387.7"/>
<path class="m" stroke="#ffe430" d="M525.0 387.3H529.8M527.4 384.9V389.7M525.7 385.6L529.2 389.0M525.7 389.0L529.2 385.6"/>
<path class="m" stroke="#ffe430" d="M519.0 393.4H523.8M521.4 391.0V395.8M519.7 391.7L523.2 395.2M519.7 395.2L523.2 391.7"/>
<path class="m" stroke="#ffe430" d="M531.6 394.4H536.4M534.0 392.0V396.8M532.3 392.7L535.7 396.2M532.3 396.2L535.7 392.7"/>
<path class="m" stroke="#ffe430" d="M484.5 398.0H489.3M486.9 395.6V400.4M485.1 396.3L488.6 399.7M485.1 399.7L488.6 396.3"/>
<path class="m" stroke="#ffe430" d="M483.0 401.1H487.8M485.4 398.7V403.5M483.7 399.4L487.2 402.9M483.7 402.9L487.2 399.4"/>
<path class="m" stroke="#ffe430" d="M485.5 403.0H490.3M487.9 400.6V405.4M486.1 401.3L489.6 404.7M486.1 404.7L489.6 401.3"/>
<path class="m" stroke="#ffe430" d="M478.0 406.3H482.8M480.4 403.9V408.7M478.7 404.6L482.2 408.0M478.7 408.0L482.2 404.6"/>
<path class="m" stroke="#ffe430" d="M484.7 405.9H489.5M487.1 403.5V408.3M485.4 404.1L488.9 407.6M485.4 407.6L488.9 404.1"/>
<path class="m" stroke="#ffe430" d="M492.3 407.3H497.1M494.7 404.9V409.7M493.0 405.6L496.4 409.0M493.0 409.0L496.4 405.6"/>
<path class="m" stroke="#ffe430" d="M466.2 408.7H471.0M468.6 406.3V411.1M466.8 407.0L470.3 410.4M466.8 410.4L470.3 407.0"/>
<path class="m" stroke="#ffe430" d="M498.3 409.7H503.1M500.7 407.3V412.1M499.0 408.0L502.4 411.4M499.0 411.4L502.4 408.0"/>
<path class="m" stroke="#ffe430" d="M502.6 409.7H507.4M505.0 407.3V412.1M503.3 408.0L506.7 411.4M503.3 411.4L506.7 408.0"/>
<path class="m" stroke="#ffe430" d="M491.9 413.7H496.7M494.3 411.3V416.1M492.6 412.0L496.0 415.4M492.6 415.4L496.0 412.0"/>
<path class="m" stroke="#ffe430" d="M489.5 418.4H494.3M491.9 416.0V420.8M490.1 416.7L493.6 420.2M490.1 420.2L493.6 416.7"/>
<path class="m" stroke="#ffe430" d="M506.9 419.1H511.7M509.3 416.7V421.5M507.6 417.4L511.0 420.9M507.6 420.9L511.0 417.4"/>
<path class="m" stroke="#ffe430" d="M513.3 410.9H518.1M515.7 408.5V413.3M514.0 409.1L517.4 412.6M514.0 412.6L517.4 409.1"/>
<path class="m" stroke="#ffe430" d="M513.0 413.7H517.8M515.4 411.3V416.1M513.7 412.0L517.2 415.4M513.7 415.4L517.2 412.0"/>
<path class="m" stroke="#ffe430" d="M523.0 423.0H527.8M525.4 420.6V425.4M523.7 421.3L527.2 424.7M523.7 424.7L527.2 421.3"/>
<path class="m" stroke="#ffe430" d="M522.6 429.1H527.4M525.0 426.7V431.5M523.3 427.4L526.7 430.9M523.3 430.9L526.7 427.4"/>
<path class="m" stroke="#ffe430" d="M536.9 418.0H541.7M539.3 415.6V420.4M537.6 416.3L541.0 419.7M537.6 419.7L541.0 416.3"/>
<path class="m" stroke="#ffe430" d="M529.0 399.7H533.8M531.4 397.3V402.1M529.7 398.0L533.2 401.4M529.7 401.4L533.2 398.0"/>
<path class="m" stroke="#ffe430" d="M531.9 403.4H536.7M534.3 401.0V405.8M532.6 401.7L536.0 405.2M532.6 405.2L536.0 401.7"/>
<path class="m" stroke="#ffe430" d="M519.7 415.9H524.5M522.1 413.5V418.3M520.4 414.1L523.9 417.6M520.4 417.6L523.9 414.1"/>
<path class="m" stroke="#ffe430" d="M513.3 394.4H518.1M515.7 392.0V396.8M514.0 392.7L517.4 396.2M514.0 396.2L517.4 392.7"/>
<path class="m" stroke="#4d52a6" d="M578.6 387.7H583.4M581.0 385.3V390.1M579.3 386.0L582.7 389.4M579.3 389.4L582.7 386.0"/>
<path class="m" stroke="#4d52a6" d="M549.5 393.3H554.3M551.9 390.9V395.7M550.1 391.6L553.6 395.0M550.1 395.0L553.6 391.6"/>
<path class="m" stroke="#4d52a6" d="M553.0 397.7H557.8M555.4 395.3V400.1M553.7 396.0L557.2 399.4M553.7 399.4L557.2 396.0"/>
<path class="m" stroke="#4d52a6" d="M603.7 405.4H608.5M606.1 403.0V407.8M604.4 403.7L607.9 407.2M604.4 407.2L607.9 403.7"/>
<path class="m" stroke="#4d52a6" d="M541.6 414.9H546.4M544.0 412.5V417.3M542.3 413.1L545.7 416.6M542.3 416.6L545.7 413.1"/>
<path class="m" stroke="#ec3c3c" d="M555.9 385.9H560.7M558.3 383.5V388.3M556.6 384.1L560.0 387.6M556.6 387.6L560.0 384.1"/>
<path class="m" stroke="#ec3c3c" d="M542.6 394.4H547.4M545.0 392.0V396.8M543.3 392.7L546.7 396.2M543.3 396.2L546.7 392.7"/>
<path class="m" stroke="#ec3c3c" d="M572.3 393.4H577.1M574.7 391.0V395.8M573.0 391.7L576.4 395.2M573.0 395.2L576.4 391.7"/>
<path class="m" stroke="#ec3c3c" d="M580.2 403.0H585.0M582.6 400.6V405.4M580.8 401.3L584.3 404.7M580.8 404.7L584.3 401.3"/>
<path class="m" stroke="#ec3c3c" d="M593.6 402.3H598.4M596.0 399.9V404.7M594.3 400.6L597.7 404.0M594.3 404.0L597.7 400.6"/>
<path class="m" stroke="#ec3c3c" d="M539.3 404.9H544.1M541.7 402.5V407.3M540.0 403.1L543.4 406.6M540.0 406.6L543.4 403.1"/>
<path class="m" stroke="#ec3c3c" d="M540.2 408.7H545.0M542.6 406.3V411.1M540.8 407.0L544.3 410.4M540.8 410.4L544.3 407.0"/>
<path class="m" stroke="#ec3c3c" d="M553.0 412.6H557.8M555.4 410.2V415.0M553.7 410.8L557.2 414.3M553.7 414.3L557.2 410.8"/>
<path class="m" stroke="#ec3c3c" d="M545.5 414.9H550.3M547.9 412.5V417.3M546.1 413.1L549.6 416.6M546.1 416.6L549.6 413.1"/>
<path class="m" stroke="#ec3c3c" d="M551.2 418.0H556.0M553.6 415.6V420.4M551.8 416.3L555.3 419.7M551.8 419.7L555.3 416.3"/>
<path class="m" stroke="#ec3c3c" d="M539.0 418.7H543.8M541.4 416.3V421.1M539.7 417.0L543.2 420.4M539.7 420.4L543.2 417.0"/>
<path class="m" stroke="#ec3c3c" d="M567.6 422.3H572.4M570.0 419.9V424.7M568.3 420.6L571.7 424.0M568.3 424.0L571.7 420.6"/>
<path class="m" stroke="#ec3c3c" d="M590.2 398.7H595.0M592.6 396.3V401.1M590.8 397.0L594.3 400.4M590.8 400.4L594.3 397.0"/>
<path class="m" stroke="#ffe430" d="M583.0 375.4H587.8M585.4 373.0V377.8M583.7 373.7L587.2 377.2M583.7 377.2L587.2 373.7"/>
<path class="m" stroke="#ffe430" d="M543.6 378.7H548.4M546.0 376.3V381.1M544.3 377.0L547.7 380.4M544.3 380.4L547.7 377.0"/>
<path class="m" stroke="#ffe430" d="M543.3 401.9H548.1M545.7 399.5V404.3M544.0 400.1L547.4 403.6M544.0 403.6L547.4 400.1"/>
<path class="m" stroke="#ffe430" d="M549.5 401.3H554.3M551.9 398.9V403.7M550.1 399.6L553.6 403.0M550.1 403.0L553.6 399.6"/>
<path class="m" stroke="#ffe430" d="M555.0 402.3H559.8M557.4 399.9V404.7M555.7 400.6L559.2 404.0M555.7 404.0L559.2 400.6"/>
<path class="m" stroke="#ffe430" d="M557.6 403.3H562.4M560.0 400.9V405.7M558.3 401.6L561.7 405.0M558.3 405.0L561.7 401.6"/>
<path class="m" stroke="#ffe430" d="M554.7 408.0H559.5M557.1 405.6V410.4M555.4 406.3L558.9 409.7M555.4 409.7L558.9 406.3"/>
<path class="m" stroke="#ffe430" d="M558.0 416.3H562.8M560.4 413.9V418.7M558.7 414.6L562.2 418.0M558.7 418.0L562.2 414.6"/>
<path class="m" stroke="#ffe430" d="M559.7 417.3H564.5M562.1 414.9V419.7M560.4 415.6L563.9 419.0M560.4 419.0L563.9 415.6"/>
<path class="m" stroke="#ffe430" d="M568.3 418.3H573.1M570.7 415.9V420.7M569.0 416.6L572.4 420.0M569.0 420.0L572.4 416.6"/>
<path class="m" stroke="#ffe430" d="M583.0 422.3H587.8M585.4 419.9V424.7M583.7 420.6L587.2 424.0M583.7 424.0L587.2 420.6"/>
<path class="m" stroke="#ffe430" d="M586.6 398.7H591.4M589.0 396.3V401.1M587.3 397.0L590.7 400.4M587.3 400.4L590.7 397.0"/>
<path class="m" stroke="#ffe430" d="M589.0 398.3H593.8M591.4 395.9V400.7M589.7 396.6L593.2 400.0M589.7 400.0L593.2 396.6"/>
<path class="m" stroke="#4d52a6" d="M503.0 338.4H507.8M505.4 336.0V340.8M503.7 336.7L507.1 340.1M503.7 340.1L507.1 336.7"/>
<path class="m" stroke="#4d52a6" d="M536.1 366.8H540.9M538.5 364.4V369.2M536.8 365.1L540.2 368.5M536.8 368.5L540.2 365.1"/>
<path class="m" stroke="#ec3c3c" d="M402.2 380.4H407.0M404.6 378.0V382.8M402.9 378.7L406.3 382.1M402.9 382.1L406.3 378.7"/>
<path class="m" stroke="#ffe430" d="M432.0 391.0H436.8M434.4 388.6V393.4M432.7 389.3L436.1 392.7M432.7 392.7L436.1 389.3"/>
<ellipse class="c" cx="526.9" cy="406.0" rx="5.1" ry="4.7" fill="#ea3030"/>
<ellipse class="c" cx="512.1" cy="400.5" rx="4.9" ry="4.8" fill="#414a9a"/>
<ellipse class="c" cx="521.0" cy="403.7" rx="4.1" ry="3.5" fill="#ffea48"/>
<rect class="fr2" x="382.6" y="328.2" width="297.8" height="113.5"/>
<line class="tk" x1="442.4" y1="441.4" x2="442.4" y2="438.5"/>
<line class="tk" x1="502.2" y1="441.4" x2="502.2" y2="438.5"/>
<line class="tk" x1="561.9" y1="441.4" x2="561.9" y2="438.5"/>
<line class="tk" x1="621.7" y1="441.4" x2="621.7" y2="438.5"/>
<line class="tk" x1="382.90000000000003" y1="358.7" x2="385.90000000000003" y2="358.7"/>
<line class="tk" x1="382.90000000000003" y1="387.3" x2="385.90000000000003" y2="387.3"/>
<line class="tk" x1="382.90000000000003" y1="414.8" x2="385.90000000000003" y2="414.8"/>
<text class="t" transform="translate(375.60 455.90) scale(0.9 1)">100</text>
<text class="t" transform="translate(435.00 455.90) scale(0.9 1)">120</text>
<text class="t" transform="translate(494.35 455.90) scale(0.9 1)">140</text>
<text class="t" transform="translate(554.35 455.90) scale(0.9 1)">160</text>
<text class="e" transform="translate(573.72 455.90) scale(0.9 1)">°E</text>
<text class="t" transform="translate(612.40 455.90) scale(0.9 1)">180°</text>
<text class="t" transform="translate(668.10 455.90) scale(0.9 1)">160</text>
<text class="e" transform="translate(684.48 455.90) scale(0.9 1)">°W</text>
<text class="t" transform="translate(367.47 333.20) scale(0.9 1)">40</text>
<text class="t" transform="translate(367.31 362.00) scale(0.9 1)">30</text>
<text class="t" transform="translate(367.31 390.50) scale(0.9 1)">20</text>
<text class="t" transform="translate(367.09 417.70) scale(0.9 1)">10</text>
<text class="t" transform="translate(373.60 445.20) scale(0.9 1)">0</text>
<text class="u" transform="translate(364.38 321.70) scale(0.92 1)">°N</text>
<text class="g" x="384.92" y="324.30">(f)</text>
<text class="cj" x="486.30" y="323.60">超强台风</text>
<text class="t" transform="translate(532.68 323.60) scale(0.9 1)">Super</text>
<text class="t" transform="translate(561.78 323.60) scale(0.9 1)">TY</text>
</g>
</svg></body></html>
